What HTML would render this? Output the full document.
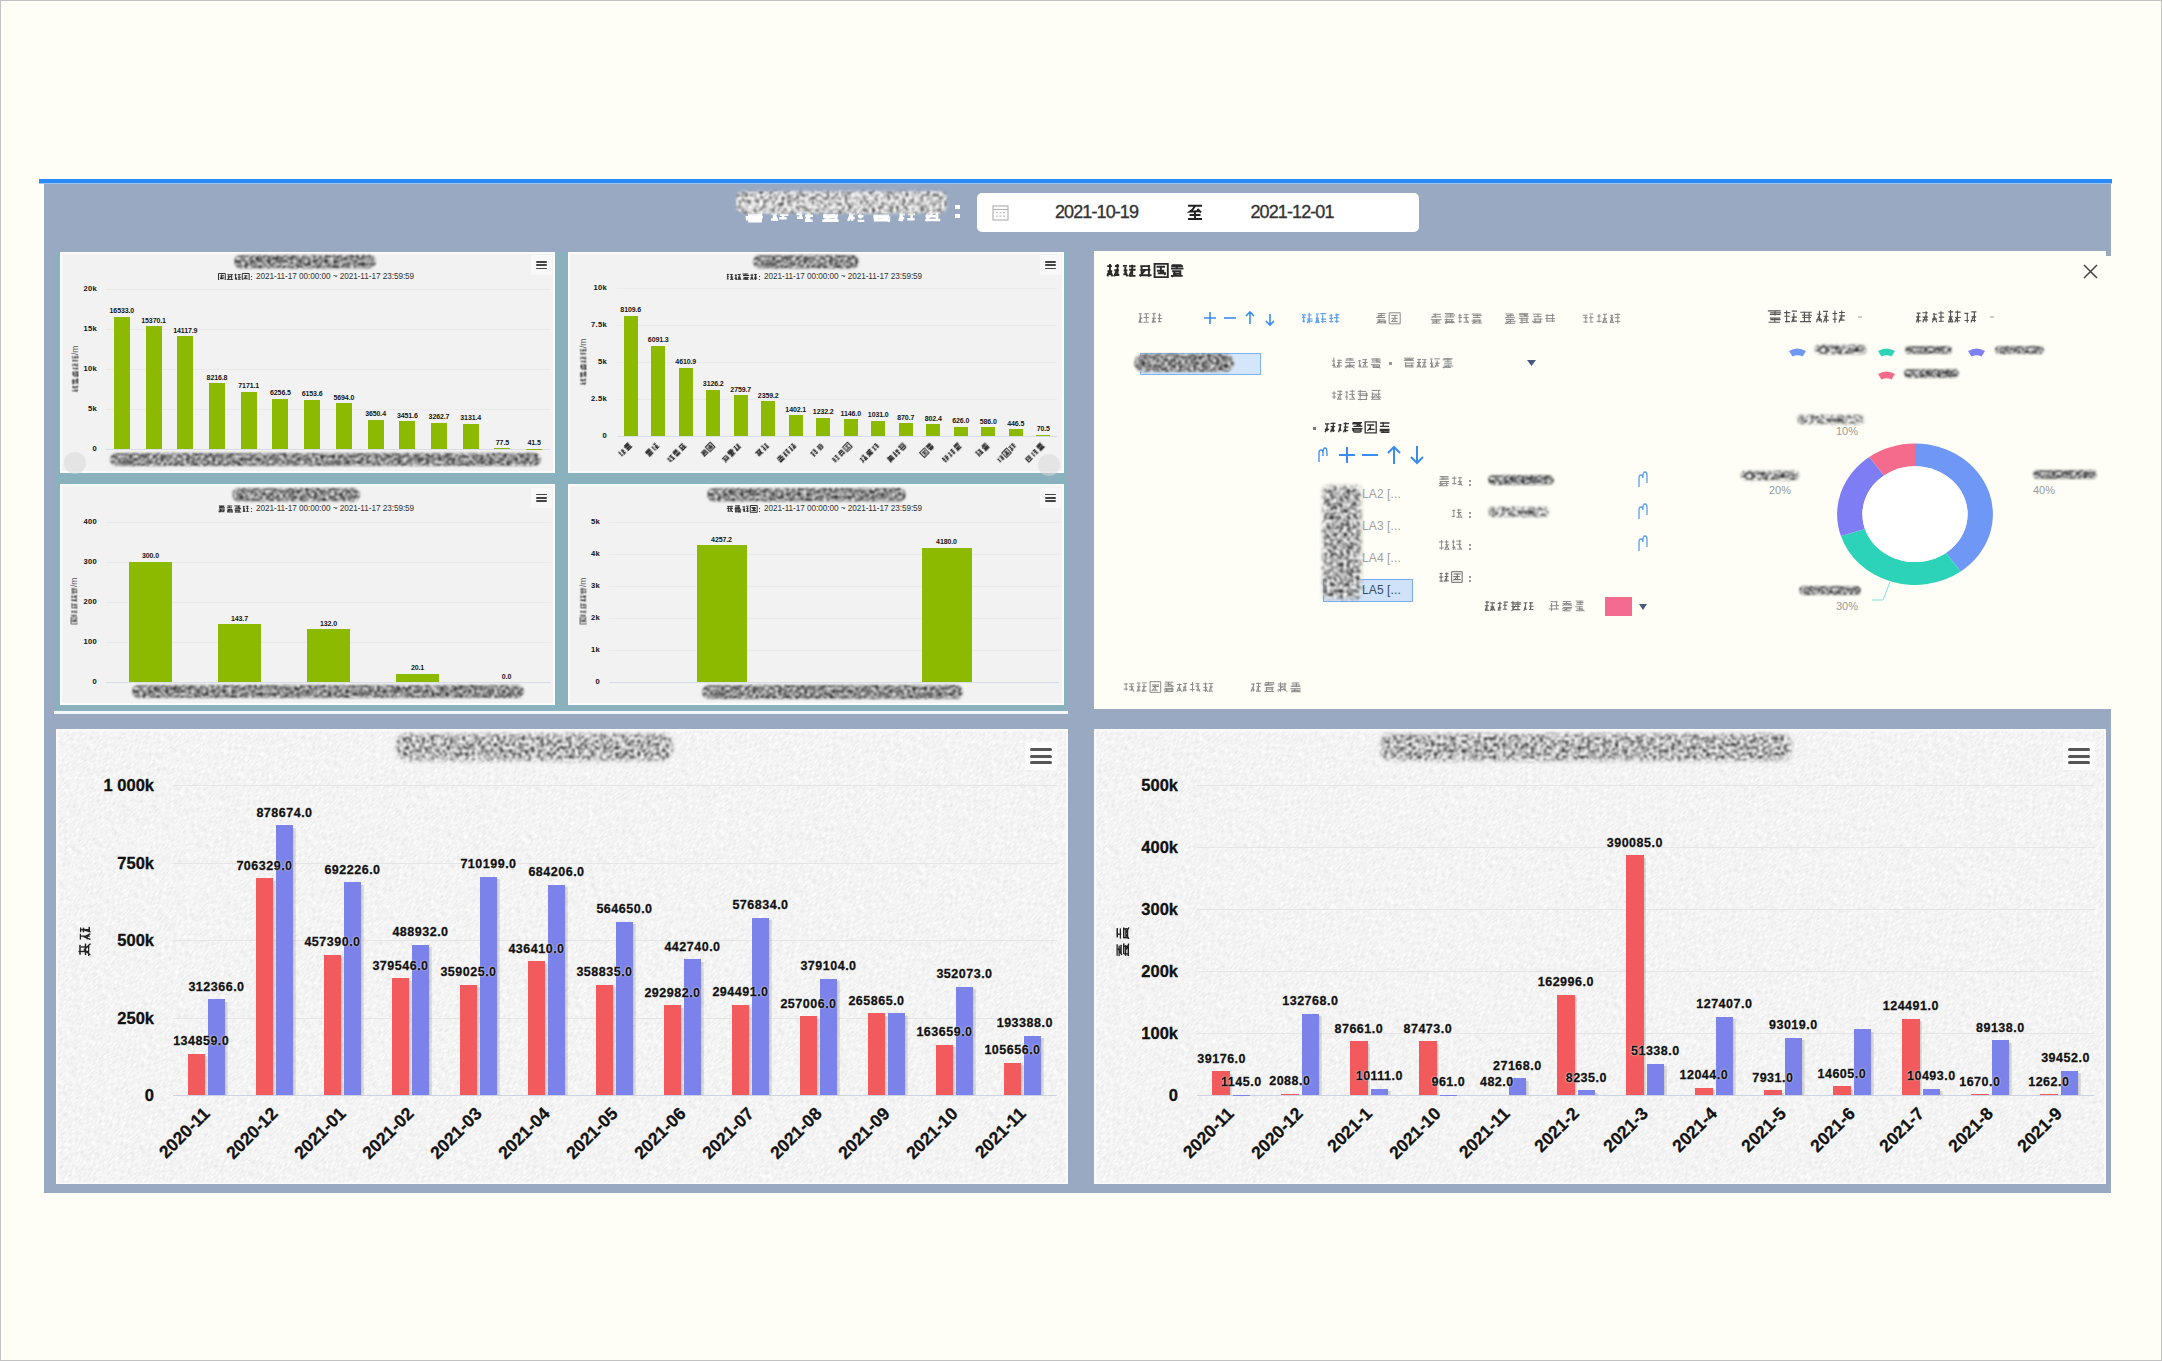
<!DOCTYPE html><html><head><meta charset="utf-8"><style>html,body{margin:0;padding:0;}body{width:2162px;height:1361px;position:relative;overflow:hidden;background:#fefef7;font-family:"Liberation Sans",sans-serif;}</style></head><body>
<svg width="0" height="0" style="position:absolute"><defs><filter id="nz1" x="-10%" y="-40%" width="120%" height="180%" color-interpolation-filters="sRGB"><feTurbulence type="fractalNoise" baseFrequency="0.3" numOctaves="3" seed="4" result="n"/><feColorMatrix in="n" type="matrix" values="2.3 0 0 0 -0.55  2.3 0 0 0 -0.55  2.3 0 0 0 -0.55  0 0 0 0 1" result="g"/><feGaussianBlur in="g" stdDeviation="1.1" result="gb"/><feGaussianBlur in="SourceAlpha" stdDeviation="1.6" result="a"/><feComposite in="gb" in2="a" operator="in"/></filter><filter id="nf0" x="-10%" y="-40%" width="120%" height="180%" color-interpolation-filters="sRGB"><feTurbulence type="fractalNoise" baseFrequency="0.3" numOctaves="3" seed="21" result="n"/><feColorMatrix in="n" type="matrix" values="2.4 0 0 0 -0.52  2.4 0 0 0 -0.52  2.4 0 0 0 -0.52  0 0 0 0 1" result="g"/><feGaussianBlur in="g" stdDeviation="1.0" result="gb"/><feGaussianBlur in="SourceAlpha" stdDeviation="2.0" result="a"/><feComposite in="gb" in2="a" operator="in"/></filter><filter id="nf1" x="-10%" y="-40%" width="120%" height="180%" color-interpolation-filters="sRGB"><feTurbulence type="fractalNoise" baseFrequency="0.3" numOctaves="3" seed="37" result="n"/><feColorMatrix in="n" type="matrix" values="2.4 0 0 0 -0.52  2.4 0 0 0 -0.52  2.4 0 0 0 -0.52  0 0 0 0 1" result="g"/><feGaussianBlur in="g" stdDeviation="1.0" result="gb"/><feGaussianBlur in="SourceAlpha" stdDeviation="2.0" result="a"/><feComposite in="gb" in2="a" operator="in"/></filter><filter id="nf2" x="-10%" y="-40%" width="120%" height="180%" color-interpolation-filters="sRGB"><feTurbulence type="fractalNoise" baseFrequency="0.3" numOctaves="3" seed="55" result="n"/><feColorMatrix in="n" type="matrix" values="2.4 0 0 0 -0.52  2.4 0 0 0 -0.52  2.4 0 0 0 -0.52  0 0 0 0 1" result="g"/><feGaussianBlur in="g" stdDeviation="1.0" result="gb"/><feGaussianBlur in="SourceAlpha" stdDeviation="2.0" result="a"/><feComposite in="gb" in2="a" operator="in"/></filter><filter id="nf3" x="-10%" y="-40%" width="120%" height="180%" color-interpolation-filters="sRGB"><feTurbulence type="fractalNoise" baseFrequency="0.35" numOctaves="3" seed="71" result="n"/><feColorMatrix in="n" type="matrix" values="2.0 0 0 0 -0.45  2.0 0 0 0 -0.45  2.0 0 0 0 -0.45  0 0 0 0 1" result="g"/><feGaussianBlur in="g" stdDeviation="1.0" result="gb"/><feGaussianBlur in="SourceAlpha" stdDeviation="1.3" result="a"/><feComposite in="gb" in2="a" operator="in"/></filter><filter id="nf4" x="-10%" y="-40%" width="120%" height="180%" color-interpolation-filters="sRGB"><feTurbulence type="fractalNoise" baseFrequency="0.35" numOctaves="3" seed="83" result="n"/><feColorMatrix in="n" type="matrix" values="2.0 0 0 0 -0.45  2.0 0 0 0 -0.45  2.0 0 0 0 -0.45  0 0 0 0 1" result="g"/><feGaussianBlur in="g" stdDeviation="1.0" result="gb"/><feGaussianBlur in="SourceAlpha" stdDeviation="1.3" result="a"/><feComposite in="gb" in2="a" operator="in"/></filter><filter id="nf5" x="-10%" y="-40%" width="120%" height="180%" color-interpolation-filters="sRGB"><feTurbulence type="fractalNoise" baseFrequency="0.35" numOctaves="3" seed="97" result="n"/><feColorMatrix in="n" type="matrix" values="2.0 0 0 0 -0.45  2.0 0 0 0 -0.45  2.0 0 0 0 -0.45  0 0 0 0 1" result="g"/><feGaussianBlur in="g" stdDeviation="1.0" result="gb"/><feGaussianBlur in="SourceAlpha" stdDeviation="1.3" result="a"/><feComposite in="gb" in2="a" operator="in"/></filter><filter id="nf6" x="-10%" y="-40%" width="120%" height="180%" color-interpolation-filters="sRGB"><feTurbulence type="fractalNoise" baseFrequency="0.33" numOctaves="3" seed="111" result="n"/><feColorMatrix in="n" type="matrix" values="2.4 0 0 0 -0.38  2.4 0 0 0 -0.38  2.4 0 0 0 -0.38  0 0 0 0 1" result="g"/><feGaussianBlur in="g" stdDeviation="0.9" result="gb"/><feGaussianBlur in="SourceAlpha" stdDeviation="1.8" result="a"/><feComposite in="gb" in2="a" operator="in"/></filter><filter id="nf7" x="-10%" y="-40%" width="120%" height="180%" color-interpolation-filters="sRGB"><feTurbulence type="fractalNoise" baseFrequency="0.32" numOctaves="3" seed="201" result="n"/><feColorMatrix in="n" type="matrix" values="2.5 0 0 0 -0.52  2.5 0 0 0 -0.52  2.5 0 0 0 -0.52  0 0 0 0 1" result="g"/><feGaussianBlur in="g" stdDeviation="0.9" result="gb"/><feGaussianBlur in="SourceAlpha" stdDeviation="2.2" result="a"/><feComposite in="gb" in2="a" operator="in"/></filter><filter id="nf8" x="-10%" y="-40%" width="120%" height="180%" color-interpolation-filters="sRGB"><feTurbulence type="fractalNoise" baseFrequency="0.32" numOctaves="3" seed="233" result="n"/><feColorMatrix in="n" type="matrix" values="2.5 0 0 0 -0.52  2.5 0 0 0 -0.52  2.5 0 0 0 -0.52  0 0 0 0 1" result="g"/><feGaussianBlur in="g" stdDeviation="0.9" result="gb"/><feGaussianBlur in="SourceAlpha" stdDeviation="2.2" result="a"/><feComposite in="gb" in2="a" operator="in"/></filter><filter id="nf9" x="-10%" y="-40%" width="120%" height="180%" color-interpolation-filters="sRGB"><feTurbulence type="fractalNoise" baseFrequency="0.3" numOctaves="3" seed="251" result="n"/><feColorMatrix in="n" type="matrix" values="2.2 0 0 0 -0.42  2.2 0 0 0 -0.42  2.2 0 0 0 -0.42  0 0 0 0 1" result="g"/><feGaussianBlur in="g" stdDeviation="1.0" result="gb"/><feGaussianBlur in="SourceAlpha" stdDeviation="1.4" result="a"/><feComposite in="gb" in2="a" operator="in"/></filter><filter id="tex" x="0" y="0" width="100%" height="100%" color-interpolation-filters="sRGB"><feTurbulence type="fractalNoise" baseFrequency="0.2 0.75" numOctaves="2" seed="3" result="n"/><feColorMatrix in="n" type="matrix" values="0.15 0 0 0 0.88  0.15 0 0 0 0.88  0.15 0 0 0 0.88  0 0 0 0 1"/></filter></defs></svg>
<div style="position:absolute;left:0.00px;top:0.00px;width:2162.00px;height:1361.00px;box-sizing:border-box;border:1px solid #c2c2c2"></div>
<div style="position:absolute;left:39.00px;top:179.00px;width:2073.00px;height:3.50px;background:#2a8bf6"></div>
<div style="position:absolute;left:39.00px;top:182.50px;width:2073.00px;height:1.00px;background:#9fc6f1"></div>
<div style="position:absolute;left:44.00px;top:183.50px;width:2067.00px;height:1009.00px;background:#98a9c1"></div>
<svg style="position:absolute;left:744.00px;top:203.00px" width="204.8" height="20" viewBox="0 0 204.8 20"><path d="M3.9 3.1H17.9M1.8 5.0H17.5M2.5 9.0H18.4M9.1 2.8V9.3M10.0 5.1L2.6 9.5M4.0 11.7H18.3M1.6 14.2H18.8M1.9 16.4H18.0M4.3 18.4H17.8M7.2 12.2V17.8M13.4 13.0V17.7M27.2 5.4H33.2M27.6 10.9H32.9M26.9 16.5H33.2M30.0 4.3V18.1M30.2 10.0L33.3 17.9M34.9 4.7H43.0M34.9 8.8H42.9M36.0 11.8H44.4M35.2 15.3H42.6M39.1 4.5V15.5M53.5 3.0H58.6M52.5 11.0H58.4M52.9 14.7H58.9M56.7 2.7V15.5M62.4 2.9H68.9M61.5 8.4H69.1M61.1 12.8H68.9M61.0 17.8H68.7M65.2 2.3V16.5M65.5 9.1L61.7 17.9M78.5 3.2H93.0M80.2 6.4H92.8M79.5 8.1H95.1M83.6 1.9V9.4M93.0 3.1V8.4M79.0 12.3H94.2M79.3 13.8H92.1M80.2 16.6H93.8M78.3 17.7H94.6M83.4 13.0V18.3M92.2 12.8V17.8M104.0 5.1H110.0M105.1 10.6H111.0M104.9 15.0H110.8M108.0 2.6V17.8M107.6 9.1L104.2 17.9M113.8 3.0H119.9M113.3 8.7H119.8M113.9 13.2H119.5M113.6 17.9H120.3M116.4 4.9V15.5M132.5 2.8H145.0M130.3 6.2H144.9M130.2 9.0H143.3M136.9 2.5V8.8M138.0 5.1L130.6 9.5M129.3 12.6H145.1M129.4 14.6H146.3M129.8 17.3H146.1M132.0 12.0V18.2M142.8 12.3V18.4M138.0 15.0L145.9 18.4M155.7 5.2H160.7M155.5 11.3H161.0M155.5 15.3H160.2M157.8 2.7V18.3M158.1 9.1L155.3 17.9M162.9 3.3H171.7M163.0 7.7H172.1M164.2 11.0H171.1M163.3 16.3H170.6M167.6 2.6V15.7M183.8 2.4H196.7M183.6 7.8H195.9M183.9 9.3H196.3M181.5 13.3H194.5M181.4 17.0H196.3M183.5 3.9V17.2M192.9 4.6V15.9M189.2 9.1L181.8 17.9" stroke="#ffffff" stroke-width="2.4" fill="none"/></svg>
<svg style="position:absolute;left:730.00px;top:185.00px;opacity:1.0" width="223.0" height="34.5"><rect x="6" y="6" width="211.0" height="22.5" rx="8.0" fill="#000" filter="url(#nf6)"/></svg>
<div style="position:absolute;left:954.50px;top:204.50px;width:5.00px;height:4.50px;background:#fff"></div>
<div style="position:absolute;left:954.50px;top:213.50px;width:5.00px;height:4.50px;background:#fff"></div>
<div style="position:absolute;left:977.00px;top:192.50px;width:441.50px;height:39.50px;background:#fff;border-radius:5px"></div>
<svg style="position:absolute;left:992px;top:204px" width="17" height="17" viewBox="0 0 17 17"><rect x="1" y="2" width="15" height="14" fill="none" stroke="#b4b4b4" stroke-width="1.2"/><line x1="1" y1="5.5" x2="16" y2="5.5" stroke="#b4b4b4" stroke-width="1.2"/><g fill="#c4c4c4"><rect x="4" y="8" width="2" height="1.3"/><rect x="7.5" y="8" width="2" height="1.3"/><rect x="11" y="8" width="2" height="1.3"/><rect x="4" y="11.5" width="2" height="1.3"/><rect x="7.5" y="11.5" width="2" height="1.3"/><rect x="11" y="11.5" width="2" height="1.3"/></g></svg>
<div style="position:absolute;left:1055.00px;top:203.00px;font-size:18px;line-height:18px;color:#333;font-weight:normal;white-space:nowrap;letter-spacing:-0.9px;-webkit-text-stroke:0.35px #333">2021-10-19</div>
<svg style="position:absolute;left:1187px;top:203.5px" width="16" height="16" viewBox="0 0 16 16"><path d="M1 1.8H15M8.2 2Q6 5.5 3 7.6L13 7M10.5 4.8L14 8.5M8 7.5V14.8M2.5 11H13.5M1 15H15" stroke="#222" stroke-width="1.9" fill="none"/></svg>
<div style="position:absolute;left:1250.50px;top:203.00px;font-size:18px;line-height:18px;color:#333;font-weight:normal;white-space:nowrap;letter-spacing:-0.9px;-webkit-text-stroke:0.35px #333">2021-12-01</div>
<div style="position:absolute;left:53.00px;top:251.50px;width:1015.00px;height:459.00px;background:linear-gradient(90deg,#96a9bf 0,#89b2be 5px,#89b2be 100%)"></div>
<div style="position:absolute;left:54.00px;top:710.50px;width:1014.00px;height:3.50px;background:#f4f8fa"></div>
<div style="position:absolute;left:60.00px;top:251.50px;width:495.00px;height:221.50px;box-sizing:border-box;border:2px solid #fbfbfb;background:#f2f2f2"></div>
<svg style="position:absolute;left:228.00px;top:249.00px;opacity:1.0" width="154.0" height="25.5"><rect x="6" y="6" width="142.0" height="13.5" rx="6.8" fill="#000" filter="url(#nf5)"/></svg>
<svg style="position:absolute;left:218.00px;top:272.50px;filter:blur(0.2px)" width="31.8" height="7.8" viewBox="0 0 31.8 7.8"><path d="M0.5 0.5H7.3V7.3H0.5ZM2.4 2.4H5.9M1.7 4.2H6.4M2.1 5.5H5.5M3.5 1.6V6.1M9.3 1.7H14.9M9.7 3.7H14.2M8.8 6.6H15.1M10.7 2.2V6.3M13.6 1.5V7.2M11.9 3.6L9.0 7.0M16.4 1.9H18.7M16.7 5.8H18.8M17.5 0.7V6.2M17.8 3.9L19.0 7.0M19.7 1.6H22.7M19.8 4.2H23.2M20.2 6.3H22.7M21.1 1.9V6.5M24.3 0.5H31.2V7.3H24.3ZM26.2 2.8H29.4M25.6 5.3H29.7M27.8 2.5V6.1M27.8 3.7L25.7 6.1" stroke="#333" stroke-width="1.0" fill="none"/></svg>
<div style="position:absolute;left:251.00px;top:275.50px;width:1.30px;height:1.30px;background:#444"></div>
<div style="position:absolute;left:251.00px;top:278.50px;width:1.30px;height:1.30px;background:#444"></div>
<div style="position:absolute;left:256.00px;top:272.50px;font-size:8.2px;line-height:8.2px;color:#333;font-weight:normal;white-space:nowrap;letter-spacing:-0.05px">2021-11-17 00:00:00 ~ 2021-11-17 23:59:59</div>
<div style="position:absolute;left:531.40px;top:255.10px;width:20.50px;height:20.30px;background:#f8f8f8;border-radius:2px"></div>
<div style="position:absolute;left:536.40px;top:261.10px;width:10.50px;height:1.90px;background:#444;border-radius:0.95px"></div>
<div style="position:absolute;left:536.40px;top:264.30px;width:10.50px;height:1.90px;background:#444;border-radius:0.95px"></div>
<div style="position:absolute;left:536.40px;top:267.50px;width:10.50px;height:1.90px;background:#444;border-radius:0.95px"></div>
<div style="position:absolute;left:106.00px;top:449.00px;width:444.00px;height:1.00px;background:#d8dbe8"></div>
<div style="position:absolute;left:-503.00px;width:600px;text-align:right;top:445.00px;font-size:7.6px;line-height:7.6px;color:#111;font-weight:bold;white-space:nowrap;letter-spacing:0.3px">0</div>
<div style="position:absolute;left:106.00px;top:409.00px;width:444.00px;height:1.00px;background:#eaeaea"></div>
<div style="position:absolute;left:-503.00px;width:600px;text-align:right;top:405.00px;font-size:7.6px;line-height:7.6px;color:#111;font-weight:bold;white-space:nowrap;letter-spacing:0.3px">5k</div>
<div style="position:absolute;left:106.00px;top:369.00px;width:444.00px;height:1.00px;background:#eaeaea"></div>
<div style="position:absolute;left:-503.00px;width:600px;text-align:right;top:365.00px;font-size:7.6px;line-height:7.6px;color:#111;font-weight:bold;white-space:nowrap;letter-spacing:0.3px">10k</div>
<div style="position:absolute;left:106.00px;top:329.00px;width:444.00px;height:1.00px;background:#eaeaea"></div>
<div style="position:absolute;left:-503.00px;width:600px;text-align:right;top:325.00px;font-size:7.6px;line-height:7.6px;color:#111;font-weight:bold;white-space:nowrap;letter-spacing:0.3px">15k</div>
<div style="position:absolute;left:106.00px;top:289.00px;width:444.00px;height:1.00px;background:#eaeaea"></div>
<div style="position:absolute;left:-503.00px;width:600px;text-align:right;top:285.00px;font-size:7.6px;line-height:7.6px;color:#111;font-weight:bold;white-space:nowrap;letter-spacing:0.3px">20k</div>
<div style="position:absolute;left:34.5px;top:364.5px;width:80px;height:9px;transform:rotate(-90deg);">
<svg style="position:absolute;left:17.00px;top:1.00px;filter:blur(0.15px)" width="37.4" height="7.4" viewBox="0 0 37.4 7.4"><path d="M0.8 1.2H2.5M0.7 3.5H2.6M0.5 5.5H2.8M1.8 1.8V6.1M1.7 3.7L2.7 6.6M4.0 1.8H7.0M3.4 3.3H6.4M3.6 5.7H6.7M5.3 0.7V6.2M5.1 3.7L6.8 6.6M8.4 1.1H13.2M7.9 1.7H13.3M9.1 2.7H13.3M11.8 0.8V2.9M11.2 1.8L8.4 3.2M9.2 4.2H13.5M8.7 5.5H14.2M8.6 6.3H14.2M11.8 4.1V6.9M16.7 1.5H21.1M15.5 2.9H21.8M19.1 0.7V4.0M18.6 2.1L15.9 3.9M15.7 4.8H21.9M15.6 5.6H20.6M15.9 6.7H21.2M16.4 5.1V6.9M20.5 4.7V6.8M18.6 5.6L15.9 6.8M23.3 2.0H25.2M23.3 5.4H25.2M24.0 1.5V6.8M24.1 3.4L23.1 6.6M26.1 1.2H28.8M26.5 3.4H29.3M26.5 6.0H29.3M27.8 1.8V6.3M27.6 3.4L26.0 6.6M30.6 1.7H33.0M30.9 3.8H32.9M30.8 5.8H32.6M31.8 0.8V6.3M33.7 1.1H36.8M33.9 3.5H36.6M34.0 6.3H36.7M34.9 1.4V6.6M35.2 3.7L36.7 6.6" stroke="#555" stroke-width="0.95" fill="none"/></svg>
<div style="position:absolute;left:54.50px;top:0.30px;font-size:8.5px;line-height:8.5px;color:#555;font-weight:normal;white-space:nowrap;">/m</div>
</div>
<div style="position:absolute;left:113.86px;top:316.74px;width:16.00px;height:132.26px;background:#8cba00"></div>
<div style="position:absolute;left:-178.14px;width:600px;text-align:center;top:307.24px;font-size:7px;line-height:7px;color:#111;font-weight:bold;white-space:nowrap;letter-spacing:-0.1px;text-shadow:0 0 1px #fff">16533.0</div>
<div style="position:absolute;left:145.57px;top:326.04px;width:16.00px;height:122.96px;background:#8cba00"></div>
<div style="position:absolute;left:-146.43px;width:600px;text-align:center;top:316.54px;font-size:7px;line-height:7px;color:#111;font-weight:bold;white-space:nowrap;letter-spacing:-0.1px;text-shadow:0 0 1px #fff">15370.1</div>
<div style="position:absolute;left:177.29px;top:336.06px;width:16.00px;height:112.94px;background:#8cba00"></div>
<div style="position:absolute;left:-114.71px;width:600px;text-align:center;top:326.56px;font-size:7px;line-height:7px;color:#111;font-weight:bold;white-space:nowrap;letter-spacing:-0.1px;text-shadow:0 0 1px #fff">14117.9</div>
<div style="position:absolute;left:209.00px;top:383.27px;width:16.00px;height:65.73px;background:#8cba00"></div>
<div style="position:absolute;left:-83.00px;width:600px;text-align:center;top:373.77px;font-size:7px;line-height:7px;color:#111;font-weight:bold;white-space:nowrap;letter-spacing:-0.1px;text-shadow:0 0 1px #fff">8216.8</div>
<div style="position:absolute;left:240.71px;top:391.63px;width:16.00px;height:57.37px;background:#8cba00"></div>
<div style="position:absolute;left:-51.29px;width:600px;text-align:center;top:382.13px;font-size:7px;line-height:7px;color:#111;font-weight:bold;white-space:nowrap;letter-spacing:-0.1px;text-shadow:0 0 1px #fff">7171.1</div>
<div style="position:absolute;left:272.43px;top:398.95px;width:16.00px;height:50.05px;background:#8cba00"></div>
<div style="position:absolute;left:-19.57px;width:600px;text-align:center;top:389.45px;font-size:7px;line-height:7px;color:#111;font-weight:bold;white-space:nowrap;letter-spacing:-0.1px;text-shadow:0 0 1px #fff">6256.5</div>
<div style="position:absolute;left:304.14px;top:399.77px;width:16.00px;height:49.23px;background:#8cba00"></div>
<div style="position:absolute;left:12.14px;width:600px;text-align:center;top:390.27px;font-size:7px;line-height:7px;color:#111;font-weight:bold;white-space:nowrap;letter-spacing:-0.1px;text-shadow:0 0 1px #fff">6153.6</div>
<div style="position:absolute;left:335.86px;top:403.45px;width:16.00px;height:45.55px;background:#8cba00"></div>
<div style="position:absolute;left:43.86px;width:600px;text-align:center;top:393.95px;font-size:7px;line-height:7px;color:#111;font-weight:bold;white-space:nowrap;letter-spacing:-0.1px;text-shadow:0 0 1px #fff">5694.0</div>
<div style="position:absolute;left:367.57px;top:419.80px;width:16.00px;height:29.20px;background:#8cba00"></div>
<div style="position:absolute;left:75.57px;width:600px;text-align:center;top:410.30px;font-size:7px;line-height:7px;color:#111;font-weight:bold;white-space:nowrap;letter-spacing:-0.1px;text-shadow:0 0 1px #fff">3650.4</div>
<div style="position:absolute;left:399.29px;top:421.39px;width:16.00px;height:27.61px;background:#8cba00"></div>
<div style="position:absolute;left:107.29px;width:600px;text-align:center;top:411.89px;font-size:7px;line-height:7px;color:#111;font-weight:bold;white-space:nowrap;letter-spacing:-0.1px;text-shadow:0 0 1px #fff">3451.6</div>
<div style="position:absolute;left:431.00px;top:422.90px;width:16.00px;height:26.10px;background:#8cba00"></div>
<div style="position:absolute;left:139.00px;width:600px;text-align:center;top:413.40px;font-size:7px;line-height:7px;color:#111;font-weight:bold;white-space:nowrap;letter-spacing:-0.1px;text-shadow:0 0 1px #fff">3262.7</div>
<div style="position:absolute;left:462.71px;top:423.95px;width:16.00px;height:25.05px;background:#8cba00"></div>
<div style="position:absolute;left:170.71px;width:600px;text-align:center;top:414.45px;font-size:7px;line-height:7px;color:#111;font-weight:bold;white-space:nowrap;letter-spacing:-0.1px;text-shadow:0 0 1px #fff">3131.4</div>
<div style="position:absolute;left:494.43px;top:448.38px;width:16.00px;height:0.62px;background:#8cba00"></div>
<div style="position:absolute;left:202.43px;width:600px;text-align:center;top:438.88px;font-size:7px;line-height:7px;color:#111;font-weight:bold;white-space:nowrap;letter-spacing:-0.1px;text-shadow:0 0 1px #fff">77.5</div>
<div style="position:absolute;left:526.14px;top:448.67px;width:16.00px;height:0.33px;background:#8cba00"></div>
<div style="position:absolute;left:234.14px;width:600px;text-align:center;top:439.17px;font-size:7px;line-height:7px;color:#111;font-weight:bold;white-space:nowrap;letter-spacing:-0.1px;text-shadow:0 0 1px #fff">41.5</div>
<svg style="position:absolute;left:104.00px;top:447.00px;opacity:1.0" width="443.0" height="25.0"><rect x="6" y="6" width="431.0" height="13.0" rx="6.5" fill="#000" filter="url(#nf3)"/></svg>
<div style="position:absolute;left:568.00px;top:251.50px;width:496.00px;height:221.50px;box-sizing:border-box;border:2px solid #fbfbfb;background:#f2f2f2"></div>
<svg style="position:absolute;left:747.00px;top:249.00px;opacity:1.0" width="118.0" height="25.5"><rect x="6" y="6" width="106.0" height="13.5" rx="6.8" fill="#000" filter="url(#nf3)"/></svg>
<svg style="position:absolute;left:726.00px;top:272.50px;filter:blur(0.2px)" width="31.8" height="7.8" viewBox="0 0 31.8 7.8"><path d="M0.8 1.5H2.8M0.9 3.6H2.8M0.8 5.9H2.7M1.7 0.8V6.2M3.7 1.5H6.8M4.1 4.0H7.2M4.0 6.3H7.0M5.6 1.1V6.6M5.4 3.9L7.1 7.0M8.7 2.4H10.8M8.5 5.5H10.7M9.9 1.2V6.9M9.8 3.9L10.9 7.0M11.7 1.5H14.8M12.0 4.1H14.7M12.1 6.2H14.9M13.3 2.1V6.1M13.4 3.6L11.8 7.0M13.4 3.9L15.1 7.0M16.4 1.0H22.4M17.2 2.5H23.2M19.9 0.7V2.9M19.8 1.6L16.9 2.9M17.6 4.4H22.8M17.3 5.6H22.1M16.9 6.9H21.9M19.8 4.0V7.3M19.8 5.4L22.9 7.1M24.4 2.1H27.2M24.4 5.1H27.0M26.0 0.9V6.2M25.9 3.6L24.6 7.0M25.9 3.9L27.2 7.0M27.9 1.7H31.0M28.2 4.2H31.0M27.9 5.7H31.1M29.5 0.9V7.3" stroke="#333" stroke-width="1.0" fill="none"/></svg>
<div style="position:absolute;left:759.00px;top:275.50px;width:1.30px;height:1.30px;background:#444"></div>
<div style="position:absolute;left:759.00px;top:278.50px;width:1.30px;height:1.30px;background:#444"></div>
<div style="position:absolute;left:764.00px;top:272.50px;font-size:8.2px;line-height:8.2px;color:#333;font-weight:normal;white-space:nowrap;letter-spacing:-0.05px">2021-11-17 00:00:00 ~ 2021-11-17 23:59:59</div>
<div style="position:absolute;left:1040.40px;top:255.10px;width:20.50px;height:20.30px;background:#f8f8f8;border-radius:2px"></div>
<div style="position:absolute;left:1045.40px;top:261.10px;width:10.50px;height:1.90px;background:#444;border-radius:0.95px"></div>
<div style="position:absolute;left:1045.40px;top:264.30px;width:10.50px;height:1.90px;background:#444;border-radius:0.95px"></div>
<div style="position:absolute;left:1045.40px;top:267.50px;width:10.50px;height:1.90px;background:#444;border-radius:0.95px"></div>
<div style="position:absolute;left:617.00px;top:436.00px;width:440.00px;height:1.00px;background:#d8dbe8"></div>
<div style="position:absolute;left:7.00px;width:600px;text-align:right;top:432.00px;font-size:7.6px;line-height:7.6px;color:#111;font-weight:bold;white-space:nowrap;letter-spacing:0.3px">0</div>
<div style="position:absolute;left:617.00px;top:399.00px;width:440.00px;height:1.00px;background:#eaeaea"></div>
<div style="position:absolute;left:7.00px;width:600px;text-align:right;top:395.00px;font-size:7.6px;line-height:7.6px;color:#111;font-weight:bold;white-space:nowrap;letter-spacing:0.3px">2.5k</div>
<div style="position:absolute;left:617.00px;top:362.00px;width:440.00px;height:1.00px;background:#eaeaea"></div>
<div style="position:absolute;left:7.00px;width:600px;text-align:right;top:358.00px;font-size:7.6px;line-height:7.6px;color:#111;font-weight:bold;white-space:nowrap;letter-spacing:0.3px">5k</div>
<div style="position:absolute;left:617.00px;top:325.00px;width:440.00px;height:1.00px;background:#eaeaea"></div>
<div style="position:absolute;left:7.00px;width:600px;text-align:right;top:321.00px;font-size:7.6px;line-height:7.6px;color:#111;font-weight:bold;white-space:nowrap;letter-spacing:0.3px">7.5k</div>
<div style="position:absolute;left:617.00px;top:288.00px;width:440.00px;height:1.00px;background:#eaeaea"></div>
<div style="position:absolute;left:7.00px;width:600px;text-align:right;top:284.00px;font-size:7.6px;line-height:7.6px;color:#111;font-weight:bold;white-space:nowrap;letter-spacing:0.3px">10k</div>
<div style="position:absolute;left:542.5px;top:357.5px;width:80px;height:9px;transform:rotate(-90deg);">
<svg style="position:absolute;left:17.00px;top:1.00px;filter:blur(0.15px)" width="37.4" height="7.4" viewBox="0 0 37.4 7.4"><path d="M0.8 1.2H2.5M0.7 3.5H2.6M0.5 5.5H2.8M1.8 1.8V6.1M1.7 3.7L2.7 6.6M4.0 1.8H7.0M3.4 3.3H6.4M3.6 5.7H6.7M5.3 0.7V6.2M5.1 3.7L6.8 6.6M8.4 1.1H13.2M7.9 1.7H13.3M9.1 2.7H13.3M11.8 0.8V2.9M11.2 1.8L8.4 3.2M9.2 4.2H13.5M8.7 5.5H14.2M8.6 6.3H14.2M11.8 4.1V6.9M16.7 1.5H21.1M15.5 2.9H21.8M19.1 0.7V4.0M18.6 2.1L15.9 3.9M15.7 4.8H21.9M15.6 5.6H20.6M15.9 6.7H21.2M16.4 5.1V6.9M20.5 4.7V6.8M18.6 5.6L15.9 6.8M23.3 2.0H25.2M23.3 5.4H25.2M24.0 1.5V6.8M24.1 3.4L23.1 6.6M26.1 1.2H28.8M26.5 3.4H29.3M26.5 6.0H29.3M27.8 1.8V6.3M27.6 3.4L26.0 6.6M30.6 1.7H33.0M30.9 3.8H32.9M30.8 5.8H32.6M31.8 0.8V6.3M33.7 1.1H36.8M33.9 3.5H36.6M34.0 6.3H36.7M34.9 1.4V6.6M35.2 3.7L36.7 6.6" stroke="#555" stroke-width="0.95" fill="none"/></svg>
<div style="position:absolute;left:54.50px;top:0.30px;font-size:8.5px;line-height:8.5px;color:#555;font-weight:normal;white-space:nowrap;">/m</div>
</div>
<div style="position:absolute;left:623.75px;top:315.98px;width:14.00px;height:120.02px;background:#8cba00"></div>
<div style="position:absolute;left:330.75px;width:600px;text-align:center;top:306.48px;font-size:7px;line-height:7px;color:#111;font-weight:bold;white-space:nowrap;letter-spacing:-0.1px;text-shadow:0 0 1px #fff">8109.6</div>
<div style="position:absolute;left:651.25px;top:345.85px;width:14.00px;height:90.15px;background:#8cba00"></div>
<div style="position:absolute;left:358.25px;width:600px;text-align:center;top:336.35px;font-size:7px;line-height:7px;color:#111;font-weight:bold;white-space:nowrap;letter-spacing:-0.1px;text-shadow:0 0 1px #fff">6091.3</div>
<div style="position:absolute;left:678.75px;top:367.76px;width:14.00px;height:68.24px;background:#8cba00"></div>
<div style="position:absolute;left:385.75px;width:600px;text-align:center;top:358.26px;font-size:7px;line-height:7px;color:#111;font-weight:bold;white-space:nowrap;letter-spacing:-0.1px;text-shadow:0 0 1px #fff">4610.9</div>
<div style="position:absolute;left:706.25px;top:389.73px;width:14.00px;height:46.27px;background:#8cba00"></div>
<div style="position:absolute;left:413.25px;width:600px;text-align:center;top:380.23px;font-size:7px;line-height:7px;color:#111;font-weight:bold;white-space:nowrap;letter-spacing:-0.1px;text-shadow:0 0 1px #fff">3126.2</div>
<div style="position:absolute;left:733.75px;top:395.16px;width:14.00px;height:40.84px;background:#8cba00"></div>
<div style="position:absolute;left:440.75px;width:600px;text-align:center;top:385.66px;font-size:7px;line-height:7px;color:#111;font-weight:bold;white-space:nowrap;letter-spacing:-0.1px;text-shadow:0 0 1px #fff">2759.7</div>
<div style="position:absolute;left:761.25px;top:401.08px;width:14.00px;height:34.92px;background:#8cba00"></div>
<div style="position:absolute;left:468.25px;width:600px;text-align:center;top:391.58px;font-size:7px;line-height:7px;color:#111;font-weight:bold;white-space:nowrap;letter-spacing:-0.1px;text-shadow:0 0 1px #fff">2359.2</div>
<div style="position:absolute;left:788.75px;top:415.25px;width:14.00px;height:20.75px;background:#8cba00"></div>
<div style="position:absolute;left:495.75px;width:600px;text-align:center;top:405.75px;font-size:7px;line-height:7px;color:#111;font-weight:bold;white-space:nowrap;letter-spacing:-0.1px;text-shadow:0 0 1px #fff">1402.1</div>
<div style="position:absolute;left:816.25px;top:417.76px;width:14.00px;height:18.24px;background:#8cba00"></div>
<div style="position:absolute;left:523.25px;width:600px;text-align:center;top:408.26px;font-size:7px;line-height:7px;color:#111;font-weight:bold;white-space:nowrap;letter-spacing:-0.1px;text-shadow:0 0 1px #fff">1232.2</div>
<div style="position:absolute;left:843.75px;top:419.04px;width:14.00px;height:16.96px;background:#8cba00"></div>
<div style="position:absolute;left:550.75px;width:600px;text-align:center;top:409.54px;font-size:7px;line-height:7px;color:#111;font-weight:bold;white-space:nowrap;letter-spacing:-0.1px;text-shadow:0 0 1px #fff">1146.0</div>
<div style="position:absolute;left:871.25px;top:420.74px;width:14.00px;height:15.26px;background:#8cba00"></div>
<div style="position:absolute;left:578.25px;width:600px;text-align:center;top:411.24px;font-size:7px;line-height:7px;color:#111;font-weight:bold;white-space:nowrap;letter-spacing:-0.1px;text-shadow:0 0 1px #fff">1031.0</div>
<div style="position:absolute;left:898.75px;top:423.11px;width:14.00px;height:12.89px;background:#8cba00"></div>
<div style="position:absolute;left:605.75px;width:600px;text-align:center;top:413.61px;font-size:7px;line-height:7px;color:#111;font-weight:bold;white-space:nowrap;letter-spacing:-0.1px;text-shadow:0 0 1px #fff">870.7</div>
<div style="position:absolute;left:926.25px;top:424.12px;width:14.00px;height:11.88px;background:#8cba00"></div>
<div style="position:absolute;left:633.25px;width:600px;text-align:center;top:414.62px;font-size:7px;line-height:7px;color:#111;font-weight:bold;white-space:nowrap;letter-spacing:-0.1px;text-shadow:0 0 1px #fff">802.4</div>
<div style="position:absolute;left:953.75px;top:426.74px;width:14.00px;height:9.26px;background:#8cba00"></div>
<div style="position:absolute;left:660.75px;width:600px;text-align:center;top:417.24px;font-size:7px;line-height:7px;color:#111;font-weight:bold;white-space:nowrap;letter-spacing:-0.1px;text-shadow:0 0 1px #fff">626.0</div>
<div style="position:absolute;left:981.25px;top:427.33px;width:14.00px;height:8.67px;background:#8cba00"></div>
<div style="position:absolute;left:688.25px;width:600px;text-align:center;top:417.83px;font-size:7px;line-height:7px;color:#111;font-weight:bold;white-space:nowrap;letter-spacing:-0.1px;text-shadow:0 0 1px #fff">586.0</div>
<div style="position:absolute;left:1008.75px;top:429.39px;width:14.00px;height:6.61px;background:#8cba00"></div>
<div style="position:absolute;left:715.75px;width:600px;text-align:center;top:419.89px;font-size:7px;line-height:7px;color:#111;font-weight:bold;white-space:nowrap;letter-spacing:-0.1px;text-shadow:0 0 1px #fff">446.5</div>
<div style="position:absolute;left:1036.25px;top:434.96px;width:14.00px;height:1.04px;background:#8cba00"></div>
<div style="position:absolute;left:743.25px;width:600px;text-align:center;top:425.46px;font-size:7px;line-height:7px;color:#111;font-weight:bold;white-space:nowrap;letter-spacing:-0.1px;text-shadow:0 0 1px #fff">70.5</div>
<div style="position:absolute;left:60.00px;top:484.00px;width:495.00px;height:221.00px;box-sizing:border-box;border:2px solid #fbfbfb;background:#f2f2f2"></div>
<svg style="position:absolute;left:226.00px;top:481.50px;opacity:1.0" width="140.0" height="25.5"><rect x="6" y="6" width="128.0" height="13.5" rx="6.8" fill="#000" filter="url(#nf4)"/></svg>
<svg style="position:absolute;left:218.00px;top:505.00px;filter:blur(0.2px)" width="31.8" height="7.8" viewBox="0 0 31.8 7.8"><path d="M0.9 1.0H6.4M1.4 1.6H6.0M1.7 2.7H6.8M3.5 0.8V2.8M3.9 1.7L1.0 3.0M1.2 4.0H6.7M0.6 5.2H6.8M0.6 6.7H6.2M2.5 3.9V7.1M5.8 4.6V6.7M3.9 5.3L1.0 7.1M9.3 1.0H14.3M8.9 2.8H14.0M11.2 0.8V3.1M9.5 4.5H14.2M8.9 5.8H14.5M9.6 7.0H15.0M10.6 4.3V6.7M14.0 4.6V7.2M11.9 5.4L9.0 7.2M16.4 0.9H22.3M17.5 2.2H22.2M16.8 3.7H23.1M20.4 1.0V3.5M19.8 2.3L22.9 3.9M16.5 5.0H22.0M17.0 5.8H22.0M16.9 7.1H23.1M17.9 5.1V6.9M21.0 5.1V7.2M24.8 1.4H26.7M24.9 3.4H26.7M24.7 6.0H27.2M25.8 1.2V7.0M25.8 3.9L27.1 7.0M27.8 1.2H30.6M28.2 3.5H30.6M28.4 6.5H30.7M29.4 1.0V6.5" stroke="#333" stroke-width="1.0" fill="none"/></svg>
<div style="position:absolute;left:251.00px;top:508.00px;width:1.30px;height:1.30px;background:#444"></div>
<div style="position:absolute;left:251.00px;top:511.00px;width:1.30px;height:1.30px;background:#444"></div>
<div style="position:absolute;left:256.00px;top:505.00px;font-size:8.2px;line-height:8.2px;color:#333;font-weight:normal;white-space:nowrap;letter-spacing:-0.05px">2021-11-17 00:00:00 ~ 2021-11-17 23:59:59</div>
<div style="position:absolute;left:531.40px;top:487.60px;width:20.50px;height:20.30px;background:#f8f8f8;border-radius:2px"></div>
<div style="position:absolute;left:536.40px;top:493.60px;width:10.50px;height:1.90px;background:#444;border-radius:0.95px"></div>
<div style="position:absolute;left:536.40px;top:496.80px;width:10.50px;height:1.90px;background:#444;border-radius:0.95px"></div>
<div style="position:absolute;left:536.40px;top:500.00px;width:10.50px;height:1.90px;background:#444;border-radius:0.95px"></div>
<div style="position:absolute;left:106.00px;top:682.00px;width:445.00px;height:1.00px;background:#d8dbe8"></div>
<div style="position:absolute;left:-503.00px;width:600px;text-align:right;top:678.00px;font-size:7.6px;line-height:7.6px;color:#111;font-weight:bold;white-space:nowrap;letter-spacing:0.3px">0</div>
<div style="position:absolute;left:106.00px;top:641.88px;width:445.00px;height:1.00px;background:#eaeaea"></div>
<div style="position:absolute;left:-503.00px;width:600px;text-align:right;top:637.88px;font-size:7.6px;line-height:7.6px;color:#111;font-weight:bold;white-space:nowrap;letter-spacing:0.3px">100</div>
<div style="position:absolute;left:106.00px;top:601.75px;width:445.00px;height:1.00px;background:#eaeaea"></div>
<div style="position:absolute;left:-503.00px;width:600px;text-align:right;top:597.75px;font-size:7.6px;line-height:7.6px;color:#111;font-weight:bold;white-space:nowrap;letter-spacing:0.3px">200</div>
<div style="position:absolute;left:106.00px;top:561.62px;width:445.00px;height:1.00px;background:#eaeaea"></div>
<div style="position:absolute;left:-503.00px;width:600px;text-align:right;top:557.62px;font-size:7.6px;line-height:7.6px;color:#111;font-weight:bold;white-space:nowrap;letter-spacing:0.3px">300</div>
<div style="position:absolute;left:106.00px;top:521.50px;width:445.00px;height:1.00px;background:#eaeaea"></div>
<div style="position:absolute;left:-503.00px;width:600px;text-align:right;top:517.50px;font-size:7.6px;line-height:7.6px;color:#111;font-weight:bold;white-space:nowrap;letter-spacing:0.3px">400</div>
<div style="position:absolute;left:33.5px;top:596.5px;width:80px;height:9px;transform:rotate(-90deg);">
<svg style="position:absolute;left:17.00px;top:1.00px;filter:blur(0.15px)" width="37.4" height="7.4" viewBox="0 0 37.4 7.4"><path d="M0.4 0.4H7.0V7.0H0.4ZM2.2 2.0H5.9M1.9 3.9H5.3M2.2 5.1H5.6M3.5 1.6V6.0M3.7 3.7L5.8 5.8M8.2 1.2H10.0M8.2 3.2H10.0M8.1 5.4H9.9M8.9 1.8V6.0M11.4 1.4H14.1M11.3 3.9H13.7M11.1 6.0H14.0M12.9 1.4V6.3M16.4 1.4H21.6M16.6 4.2H21.0M15.7 6.2H20.7M16.7 1.3V6.7M19.7 0.9V6.0M23.1 2.0H25.5M23.2 3.9H25.2M23.1 5.7H25.5M24.4 0.6V5.8M24.2 3.4L23.1 6.6M24.2 3.7L25.4 6.6M26.2 1.3H29.3M26.6 4.2H29.3M26.1 5.4H29.0M27.8 1.3V6.9M27.7 3.7L29.2 6.6M30.4 1.8H36.7M30.4 3.2H36.7M31.3 6.0H36.0M32.3 1.8V6.9M35.2 1.1V6.1" stroke="#555" stroke-width="0.95" fill="none"/></svg>
<div style="position:absolute;left:54.50px;top:0.30px;font-size:8.5px;line-height:8.5px;color:#555;font-weight:normal;white-space:nowrap;">/m</div>
</div>
<div style="position:absolute;left:129.00px;top:561.62px;width:43.00px;height:120.38px;background:#8cba00"></div>
<div style="position:absolute;left:-149.50px;width:600px;text-align:center;top:552.12px;font-size:7px;line-height:7px;color:#111;font-weight:bold;white-space:nowrap;letter-spacing:-0.1px;text-shadow:0 0 1px #fff">300.0</div>
<div style="position:absolute;left:218.00px;top:624.34px;width:43.00px;height:57.66px;background:#8cba00"></div>
<div style="position:absolute;left:-60.50px;width:600px;text-align:center;top:614.84px;font-size:7px;line-height:7px;color:#111;font-weight:bold;white-space:nowrap;letter-spacing:-0.1px;text-shadow:0 0 1px #fff">143.7</div>
<div style="position:absolute;left:307.00px;top:629.03px;width:43.00px;height:52.97px;background:#8cba00"></div>
<div style="position:absolute;left:28.50px;width:600px;text-align:center;top:619.53px;font-size:7px;line-height:7px;color:#111;font-weight:bold;white-space:nowrap;letter-spacing:-0.1px;text-shadow:0 0 1px #fff">132.0</div>
<div style="position:absolute;left:396.00px;top:673.93px;width:43.00px;height:8.07px;background:#8cba00"></div>
<div style="position:absolute;left:117.50px;width:600px;text-align:center;top:664.43px;font-size:7px;line-height:7px;color:#111;font-weight:bold;white-space:nowrap;letter-spacing:-0.1px;text-shadow:0 0 1px #fff">20.1</div>
<div style="position:absolute;left:206.50px;width:600px;text-align:center;top:672.50px;font-size:7px;line-height:7px;color:#111;font-weight:bold;white-space:nowrap;letter-spacing:-0.1px;text-shadow:0 0 1px #fff">0.0</div>
<svg style="position:absolute;left:126.00px;top:679.00px;opacity:1.0" width="404.0" height="25.0"><rect x="6" y="6" width="392.0" height="13.0" rx="6.5" fill="#000" filter="url(#nf5)"/></svg>
<div style="position:absolute;left:568.00px;top:484.00px;width:496.00px;height:221.00px;box-sizing:border-box;border:2px solid #fbfbfb;background:#f2f2f2"></div>
<svg style="position:absolute;left:700.50px;top:481.50px;opacity:1.0" width="211.0" height="25.5"><rect x="6" y="6" width="199.0" height="13.5" rx="6.8" fill="#000" filter="url(#nf5)"/></svg>
<svg style="position:absolute;left:726.00px;top:505.00px;filter:blur(0.2px)" width="31.8" height="7.8" viewBox="0 0 31.8 7.8"><path d="M1.1 1.4H7.0M0.7 3.4H7.0M1.5 6.1H6.1M2.4 1.0V6.4M5.1 1.0V6.1M3.9 3.9L7.0 7.0M9.1 0.8H14.1M8.9 2.3H14.0M8.7 3.5H14.3M12.2 0.7V3.7M8.7 4.8H15.3M9.7 5.9H15.0M9.2 6.9H14.6M9.7 4.6V7.2M13.0 4.9V7.3M11.9 5.9L14.9 7.2M16.4 1.8H19.2M16.6 4.4H19.1M16.9 6.1H19.0M18.1 2.1V6.1M17.8 3.9L19.1 7.0M19.9 1.2H22.8M20.3 3.6H22.7M20.0 6.0H23.0M21.5 2.1V7.0M24.3 0.5H31.2V7.3H24.3ZM25.5 2.5H29.6M26.2 3.6H30.0M25.5 5.6H30.0M27.6 2.5V6.1M27.8 3.9L30.0 6.1" stroke="#333" stroke-width="1.0" fill="none"/></svg>
<div style="position:absolute;left:759.00px;top:508.00px;width:1.30px;height:1.30px;background:#444"></div>
<div style="position:absolute;left:759.00px;top:511.00px;width:1.30px;height:1.30px;background:#444"></div>
<div style="position:absolute;left:764.00px;top:505.00px;font-size:8.2px;line-height:8.2px;color:#333;font-weight:normal;white-space:nowrap;letter-spacing:-0.05px">2021-11-17 00:00:00 ~ 2021-11-17 23:59:59</div>
<div style="position:absolute;left:1040.40px;top:487.60px;width:20.50px;height:20.30px;background:#f8f8f8;border-radius:2px"></div>
<div style="position:absolute;left:1045.40px;top:493.60px;width:10.50px;height:1.90px;background:#444;border-radius:0.95px"></div>
<div style="position:absolute;left:1045.40px;top:496.80px;width:10.50px;height:1.90px;background:#444;border-radius:0.95px"></div>
<div style="position:absolute;left:1045.40px;top:500.00px;width:10.50px;height:1.90px;background:#444;border-radius:0.95px"></div>
<div style="position:absolute;left:609.00px;top:682.00px;width:450.00px;height:1.00px;background:#d8dbe8"></div>
<div style="position:absolute;left:0.00px;width:600px;text-align:right;top:678.00px;font-size:7.6px;line-height:7.6px;color:#111;font-weight:bold;white-space:nowrap;letter-spacing:0.3px">0</div>
<div style="position:absolute;left:609.00px;top:649.90px;width:450.00px;height:1.00px;background:#eaeaea"></div>
<div style="position:absolute;left:0.00px;width:600px;text-align:right;top:645.90px;font-size:7.6px;line-height:7.6px;color:#111;font-weight:bold;white-space:nowrap;letter-spacing:0.3px">1k</div>
<div style="position:absolute;left:609.00px;top:617.80px;width:450.00px;height:1.00px;background:#eaeaea"></div>
<div style="position:absolute;left:0.00px;width:600px;text-align:right;top:613.80px;font-size:7.6px;line-height:7.6px;color:#111;font-weight:bold;white-space:nowrap;letter-spacing:0.3px">2k</div>
<div style="position:absolute;left:609.00px;top:585.70px;width:450.00px;height:1.00px;background:#eaeaea"></div>
<div style="position:absolute;left:0.00px;width:600px;text-align:right;top:581.70px;font-size:7.6px;line-height:7.6px;color:#111;font-weight:bold;white-space:nowrap;letter-spacing:0.3px">3k</div>
<div style="position:absolute;left:609.00px;top:553.60px;width:450.00px;height:1.00px;background:#eaeaea"></div>
<div style="position:absolute;left:0.00px;width:600px;text-align:right;top:549.60px;font-size:7.6px;line-height:7.6px;color:#111;font-weight:bold;white-space:nowrap;letter-spacing:0.3px">4k</div>
<div style="position:absolute;left:609.00px;top:521.50px;width:450.00px;height:1.00px;background:#eaeaea"></div>
<div style="position:absolute;left:0.00px;width:600px;text-align:right;top:517.50px;font-size:7.6px;line-height:7.6px;color:#111;font-weight:bold;white-space:nowrap;letter-spacing:0.3px">5k</div>
<div style="position:absolute;left:542.5px;top:596.5px;width:80px;height:9px;transform:rotate(-90deg);">
<svg style="position:absolute;left:17.00px;top:1.00px;filter:blur(0.15px)" width="37.4" height="7.4" viewBox="0 0 37.4 7.4"><path d="M0.4 0.4H7.0V7.0H0.4ZM2.2 2.0H5.9M1.9 3.9H5.3M2.2 5.1H5.6M3.5 1.6V6.0M3.7 3.7L5.8 5.8M8.2 1.2H10.0M8.2 3.2H10.0M8.1 5.4H9.9M8.9 1.8V6.0M11.4 1.4H14.1M11.3 3.9H13.7M11.1 6.0H14.0M12.9 1.4V6.3M16.4 1.4H21.6M16.6 4.2H21.0M15.7 6.2H20.7M16.7 1.3V6.7M19.7 0.9V6.0M23.1 2.0H25.5M23.2 3.9H25.2M23.1 5.7H25.5M24.4 0.6V5.8M24.2 3.4L23.1 6.6M24.2 3.7L25.4 6.6M26.2 1.3H29.3M26.6 4.2H29.3M26.1 5.4H29.0M27.8 1.3V6.9M27.7 3.7L29.2 6.6M30.4 1.8H36.7M30.4 3.2H36.7M31.3 6.0H36.0M32.3 1.8V6.9M35.2 1.1V6.1" stroke="#555" stroke-width="0.95" fill="none"/></svg>
<div style="position:absolute;left:54.50px;top:0.30px;font-size:8.5px;line-height:8.5px;color:#555;font-weight:normal;white-space:nowrap;">/m</div>
</div>
<div style="position:absolute;left:696.50px;top:545.34px;width:50.00px;height:136.66px;background:#8cba00"></div>
<div style="position:absolute;left:421.50px;width:600px;text-align:center;top:535.84px;font-size:7px;line-height:7px;color:#111;font-weight:bold;white-space:nowrap;letter-spacing:-0.1px;text-shadow:0 0 1px #fff">4257.2</div>
<div style="position:absolute;left:921.50px;top:547.82px;width:50.00px;height:134.18px;background:#8cba00"></div>
<div style="position:absolute;left:646.50px;width:600px;text-align:center;top:538.32px;font-size:7px;line-height:7px;color:#111;font-weight:bold;white-space:nowrap;letter-spacing:-0.1px;text-shadow:0 0 1px #fff">4180.0</div>
<svg style="position:absolute;left:696.00px;top:679.00px;opacity:1.0" width="273.0" height="26.0"><rect x="6" y="6" width="261.0" height="14.0" rx="7.0" fill="#000" filter="url(#nf3)"/></svg>
<div style="position:absolute;left:611.6px;top:440.5px;width:16.6px;height:8px;transform-origin:100% 0;transform:rotate(-45deg)">
<svg style="position:absolute;left:0.00px;top:0.00px;filter:blur(0.2px)" width="16.6" height="7.6" viewBox="0 0 16.6 7.6"><path d="M0.9 2.3H2.9M0.7 5.8H3.1M1.8 0.5V5.9M4.3 1.9H6.5M4.3 3.4H6.9M4.2 5.9H6.9M5.4 0.9V6.1M5.4 3.5L3.9 6.8M9.9 0.7H15.2M8.8 1.6H14.5M9.8 2.7H14.2M11.9 0.8V2.6M12.1 1.6L9.3 2.8M12.1 1.7L15.1 2.8M9.2 4.1H14.5M10.0 5.3H14.1M8.8 6.5H15.3M10.1 3.8V7.0M14.2 4.1V6.8" stroke="#333" stroke-width="1.15" fill="none"/></svg>
</div>
<div style="position:absolute;left:639.1px;top:440.5px;width:16.6px;height:8px;transform-origin:100% 0;transform:rotate(-45deg)">
<svg style="position:absolute;left:0.00px;top:0.00px;filter:blur(0.2px)" width="16.6" height="7.6" viewBox="0 0 16.6 7.6"><path d="M1.3 0.9H6.9M0.8 1.6H6.2M1.8 2.4H7.0M3.4 0.5V2.6M3.8 1.6L1.0 2.8M1.5 3.9H6.6M1.1 5.0H6.9M1.3 6.6H6.7M2.6 3.7V6.6M5.1 3.5V6.6M3.8 5.1L1.0 7.0M8.9 2.0H10.9M9.2 5.8H10.9M9.8 1.7V6.6M12.2 1.2H15.0M11.6 4.2H15.0M12.3 6.4H15.4M13.5 1.3V6.2M13.5 3.5L11.8 6.8" stroke="#333" stroke-width="1.15" fill="none"/></svg>
</div>
<div style="position:absolute;left:658.4px;top:440.5px;width:24.9px;height:8px;transform-origin:100% 0;transform:rotate(-45deg)">
<svg style="position:absolute;left:0.00px;top:0.00px;filter:blur(0.2px)" width="24.9" height="7.6" viewBox="0 0 24.9 7.6"><path d="M0.8 2.2H3.3M0.7 5.3H3.0M2.0 1.4V6.1M1.9 3.8L3.2 6.8M4.2 1.5H7.1M3.9 3.3H6.8M4.4 6.5H6.7M5.5 1.3V6.6M5.5 3.8L7.0 6.8M9.4 1.1H14.4M9.3 2.1H14.2M9.0 3.2H14.6M12.3 0.8V3.5M12.1 2.0L9.3 3.7M9.6 5.0H14.8M9.3 6.0H14.6M9.7 6.8H14.9M10.7 4.8V6.6M13.9 4.7V6.6M18.1 1.4H23.0M18.0 4.2H23.2M17.3 6.4H23.3M18.3 0.7V6.5M21.6 1.5V6.4M20.4 3.5L17.6 6.8M20.4 3.8L23.4 6.8" stroke="#333" stroke-width="1.15" fill="none"/></svg>
</div>
<div style="position:absolute;left:694.1px;top:440.5px;width:16.6px;height:8px;transform-origin:100% 0;transform:rotate(-45deg)">
<svg style="position:absolute;left:0.00px;top:0.00px;filter:blur(0.2px)" width="16.6" height="7.6" viewBox="0 0 16.6 7.6"><path d="M1.4 1.8H6.0M1.7 3.2H6.2M1.1 4.8H6.7M1.1 6.5H7.0M2.2 2.1V7.1M6.1 1.6V6.3M3.8 3.5L1.0 6.8M8.7 0.5H15.4V7.1H8.7ZM10.3 2.0H13.8M9.7 3.9H14.3M10.3 5.2H14.0M12.4 2.2V5.3" stroke="#333" stroke-width="1.15" fill="none"/></svg>
</div>
<div style="position:absolute;left:713.4px;top:440.5px;width:24.9px;height:8px;transform-origin:100% 0;transform:rotate(-45deg)">
<svg style="position:absolute;left:0.00px;top:0.00px;filter:blur(0.2px)" width="24.9" height="7.6" viewBox="0 0 24.9 7.6"><path d="M0.8 1.8H6.7M1.5 4.0H7.1M1.7 5.7H7.0M2.3 1.0V6.3M6.0 1.4V6.6M3.8 3.5L1.0 6.8M9.1 0.9H14.1M8.8 2.0H15.4M8.9 2.9H15.2M12.2 0.7V3.2M9.6 4.1H14.4M9.6 5.5H14.2M9.0 6.8H14.7M11.5 4.1V7.0M12.1 5.3L9.3 7.0M17.4 1.7H19.3M17.3 5.4H19.2M18.4 1.3V6.9M18.2 3.5L17.2 6.8M18.2 3.8L19.3 6.8M20.5 2.0H23.1M20.3 3.8H23.1M19.9 6.1H23.0M21.6 1.3V6.5M21.8 3.5L20.2 6.8" stroke="#333" stroke-width="1.15" fill="none"/></svg>
</div>
<div style="position:absolute;left:749.1px;top:440.5px;width:16.6px;height:8px;transform-origin:100% 0;transform:rotate(-45deg)">
<svg style="position:absolute;left:0.00px;top:0.00px;filter:blur(0.2px)" width="16.6" height="7.6" viewBox="0 0 16.6 7.6"><path d="M0.6 1.4H7.1M1.2 3.0H6.8M0.7 5.0H6.0M1.0 5.9H5.9M2.6 1.5V6.0M5.5 1.9V6.2M3.8 3.8L6.8 6.8M9.0 1.1H11.5M9.0 4.3H11.5M8.9 6.2H11.4M10.6 2.0V5.9M12.8 1.9H15.1M12.9 4.3H14.9M12.5 6.2H15.2M13.8 0.9V7.0M13.9 3.5L12.7 6.8" stroke="#333" stroke-width="1.15" fill="none"/></svg>
</div>
<div style="position:absolute;left:768.4px;top:440.5px;width:24.9px;height:8px;transform-origin:100% 0;transform:rotate(-45deg)">
<svg style="position:absolute;left:0.00px;top:0.00px;filter:blur(0.2px)" width="24.9" height="7.6" viewBox="0 0 24.9 7.6"><path d="M1.2 1.4H6.5M0.8 3.4H7.1M4.2 0.9V3.7M3.8 2.2L6.8 3.9M0.8 5.0H6.5M0.8 5.7H6.5M0.9 6.5H6.1M3.4 4.8V7.1M3.8 5.8L6.8 7.0M8.9 1.8H11.6M8.9 3.7H11.2M8.8 6.0H11.7M10.3 1.4V5.8M10.3 3.5L9.0 6.8M12.5 1.6H15.2M12.4 4.0H15.1M12.7 5.9H14.9M13.9 0.7V6.4M17.4 1.6H19.1M17.1 4.1H19.0M17.1 6.3H19.2M18.1 1.8V6.3M18.2 3.5L17.2 6.8M20.5 1.8H23.0M20.4 4.3H23.7M19.9 6.0H23.5M22.0 0.9V7.1M21.8 3.5L20.1 6.8" stroke="#333" stroke-width="1.15" fill="none"/></svg>
</div>
<div style="position:absolute;left:804.1px;top:440.5px;width:16.6px;height:8px;transform-origin:100% 0;transform:rotate(-45deg)">
<svg style="position:absolute;left:0.00px;top:0.00px;filter:blur(0.2px)" width="16.6" height="7.6" viewBox="0 0 16.6 7.6"><path d="M0.6 1.6H3.2M0.9 4.3H3.2M0.9 6.1H2.8M1.8 1.0V6.9M3.9 1.3H6.5M3.9 3.3H6.8M4.0 5.6H6.9M5.7 0.6V6.7M9.7 1.9H14.2M9.1 4.0H15.1M9.6 6.1H14.4M11.0 1.8V5.8M14.0 1.6V6.1" stroke="#333" stroke-width="1.15" fill="none"/></svg>
</div>
<div style="position:absolute;left:823.4px;top:440.5px;width:24.9px;height:8px;transform-origin:100% 0;transform:rotate(-45deg)">
<svg style="position:absolute;left:0.00px;top:0.00px;filter:blur(0.2px)" width="24.9" height="7.6" viewBox="0 0 24.9 7.6"><path d="M0.7 1.8H3.0M0.6 3.6H3.1M0.5 5.8H3.5M2.1 1.2V6.4M4.5 1.7H6.7M4.5 3.3H6.6M4.3 6.0H6.7M5.9 2.0V6.9M9.9 1.6H14.2M9.3 3.4H14.2M9.3 5.7H14.6M10.2 1.8V6.9M13.9 1.4V7.1M17.0 0.5H23.7V7.1H17.0ZM18.6 2.3H22.7M18.1 5.3H22.2M20.2 1.4V5.5" stroke="#333" stroke-width="1.15" fill="none"/></svg>
</div>
<div style="position:absolute;left:850.9px;top:440.5px;width:24.9px;height:8px;transform-origin:100% 0;transform:rotate(-45deg)">
<svg style="position:absolute;left:0.00px;top:0.00px;filter:blur(0.2px)" width="24.9" height="7.6" viewBox="0 0 24.9 7.6"><path d="M0.7 1.7H2.7M0.7 5.5H2.8M1.8 0.9V6.0M1.8 3.5L0.7 6.8M3.8 1.1H6.6M4.1 4.0H7.0M4.3 6.3H6.5M5.5 1.2V6.6M5.4 3.5L3.9 6.8M5.4 3.8L7.0 6.8M9.6 1.7H15.3M9.1 3.3H15.1M9.5 4.6H14.3M9.9 5.9H15.1M10.2 1.7V6.5M13.1 0.6V7.0M12.1 3.5L9.3 6.8M17.3 2.2H19.7M17.3 5.9H19.8M18.4 1.8V6.2M20.6 1.7H23.2M20.7 3.6H23.5M21.0 5.7H23.5M22.4 1.2V6.5" stroke="#333" stroke-width="1.15" fill="none"/></svg>
</div>
<div style="position:absolute;left:878.4px;top:440.5px;width:24.9px;height:8px;transform-origin:100% 0;transform:rotate(-45deg)">
<svg style="position:absolute;left:0.00px;top:0.00px;filter:blur(0.2px)" width="24.9" height="7.6" viewBox="0 0 24.9 7.6"><path d="M1.3 1.6H6.6M1.3 3.2H6.2M1.1 4.7H6.1M1.1 5.9H7.0M2.1 0.5V6.0M6.1 1.8V6.8M3.8 3.5L1.0 6.8M9.2 1.3H11.0M8.9 3.4H11.2M8.9 5.7H11.4M10.0 0.9V6.7M10.1 3.5L9.0 6.8M11.9 2.0H15.2M12.2 3.4H15.3M12.2 6.0H15.0M13.7 1.3V7.1M17.1 1.2H23.6M18.3 3.0H23.5M17.1 4.7H23.7M18.0 6.6H22.8M18.2 1.6V5.8M22.7 1.9V6.5" stroke="#333" stroke-width="1.15" fill="none"/></svg>
</div>
<div style="position:absolute;left:914.1px;top:440.5px;width:16.6px;height:8px;transform-origin:100% 0;transform:rotate(-45deg)">
<svg style="position:absolute;left:0.00px;top:0.00px;filter:blur(0.2px)" width="16.6" height="7.6" viewBox="0 0 16.6 7.6"><path d="M0.5 0.5H7.1V7.1H0.5ZM1.7 2.9H6.0M2.2 5.0H5.6M4.0 2.0V6.1M8.8 0.9H14.5M9.9 1.9H14.8M9.3 2.6H14.7M11.8 0.7V2.7M12.1 1.7L9.3 3.1M9.3 4.4H14.8M10.0 5.5H15.0M9.9 6.6H14.2M12.1 4.3V6.6" stroke="#333" stroke-width="1.15" fill="none"/></svg>
</div>
<div style="position:absolute;left:933.4px;top:440.5px;width:24.9px;height:8px;transform-origin:100% 0;transform:rotate(-45deg)">
<svg style="position:absolute;left:0.00px;top:0.00px;filter:blur(0.2px)" width="24.9" height="7.6" viewBox="0 0 24.9 7.6"><path d="M1.0 1.8H3.0M0.6 3.4H3.1M1.0 5.9H3.0M1.9 1.0V6.8M4.2 1.8H6.9M3.9 3.7H7.1M4.1 5.7H6.6M5.2 2.1V6.0M5.5 3.5L4.1 6.8M8.9 2.5H11.1M9.3 5.8H11.4M10.1 1.3V6.3M10.2 3.5L9.0 6.8M12.6 1.7H15.3M12.5 3.7H15.3M12.5 5.6H15.0M13.8 1.4V7.0M18.0 0.9H23.7M18.2 2.2H23.3M20.3 1.0V2.8M20.4 1.6L17.6 2.8M20.4 1.7L23.4 2.8M18.0 4.2H23.1M17.5 5.0H22.9M17.3 6.7H23.3M20.2 3.4V6.4M20.4 5.1L17.6 7.0" stroke="#333" stroke-width="1.15" fill="none"/></svg>
</div>
<div style="position:absolute;left:969.1px;top:440.5px;width:16.6px;height:8px;transform-origin:100% 0;transform:rotate(-45deg)">
<svg style="position:absolute;left:0.00px;top:0.00px;filter:blur(0.2px)" width="16.6" height="7.6" viewBox="0 0 16.6 7.6"><path d="M0.8 1.1H3.5M1.0 4.2H3.5M0.8 6.1H3.5M2.0 1.1V6.5M4.2 1.6H6.8M4.3 3.5H6.8M4.3 6.0H6.7M5.7 0.8V7.1M5.6 3.5L4.3 6.8M5.6 3.8L7.0 6.8M10.0 1.1H15.2M8.9 2.9H15.3M12.3 1.2V3.7M12.1 2.0L9.3 3.6M9.7 4.6H15.3M9.6 5.9H14.5M9.1 6.9H15.2M10.6 4.9V6.6M14.2 4.7V6.9" stroke="#333" stroke-width="1.15" fill="none"/></svg>
</div>
<div style="position:absolute;left:988.4px;top:440.5px;width:24.9px;height:8px;transform-origin:100% 0;transform:rotate(-45deg)">
<svg style="position:absolute;left:0.00px;top:0.00px;filter:blur(0.2px)" width="24.9" height="7.6" viewBox="0 0 24.9 7.6"><path d="M0.5 2.3H2.5M0.7 5.5H2.5M1.6 1.8V6.6M3.6 2.0H7.1M4.0 4.1H6.9M3.9 5.9H6.6M5.5 1.5V6.8M8.7 0.5H15.4V7.1H8.7ZM10.6 2.2H13.8M10.6 4.1H13.7M10.3 5.5H14.2M12.3 2.3V6.0M12.1 3.6L10.0 6.0M17.1 1.8H20.0M17.2 5.2H20.1M18.6 1.7V6.7M18.6 3.5L17.3 6.8M20.6 1.9H23.4M21.0 3.8H23.7M20.8 5.8H23.3M21.9 0.7V6.0" stroke="#333" stroke-width="1.15" fill="none"/></svg>
</div>
<div style="position:absolute;left:1015.9px;top:440.5px;width:24.9px;height:8px;transform-origin:100% 0;transform:rotate(-45deg)">
<svg style="position:absolute;left:0.00px;top:0.00px;filter:blur(0.2px)" width="24.9" height="7.6" viewBox="0 0 24.9 7.6"><path d="M1.2 1.9H6.7M1.2 4.2H6.8M0.8 6.5H6.7M1.5 1.4V6.9M5.2 1.8V6.9M9.2 2.2H10.8M9.0 5.8H10.8M9.9 1.6V6.4M11.8 1.7H14.8M11.9 3.7H14.8M12.1 6.0H15.3M13.7 2.0V6.3M17.7 0.8H23.5M17.7 1.9H23.0M17.3 2.9H22.8M20.3 0.6V3.3M20.4 1.9L23.4 3.2M17.9 4.3H23.3M17.5 5.7H23.2M17.7 6.7H23.6M19.4 4.1V6.5M21.4 4.0V6.8M20.4 5.3L17.6 7.0" stroke="#333" stroke-width="1.15" fill="none"/></svg>
</div>
<div style="position:absolute;left:64.00px;top:452.00px;width:22.00px;height:22.00px;border-radius:50%;background:#d9d9d9;opacity:0.55"></div>
<div style="position:absolute;left:1038.00px;top:454.00px;width:22.00px;height:22.00px;border-radius:50%;background:#d9d9d9;opacity:0.55"></div>
<div style="position:absolute;left:1093.50px;top:250.50px;width:1018.00px;height:458.50px;background:#fefef7"></div>
<div style="position:absolute;left:2106.00px;top:250.50px;width:5.00px;height:5.00px;background:#98a9c1"></div>
<svg style="position:absolute;left:1106.00px;top:263.00px" width="79.5" height="15" viewBox="0 0 79.5 15"><path d="M1.2 3.1H5.9M1.5 8.2H6.2M0.9 11.3H6.4M4.0 1.1V12.0M3.9 6.8L1.4 13.4M3.9 7.5L6.5 13.4M9.0 3.0H13.1M8.3 7.3H12.9M8.6 12.0H13.3M11.5 1.0V12.1M10.9 6.8L8.2 13.4M16.9 2.9H20.9M17.6 7.4H21.4M17.4 11.3H20.8M19.3 4.0V11.7M19.2 7.5L21.3 13.4M23.0 3.2H29.5M23.2 6.8H29.6M23.2 12.9H29.5M26.2 1.8V11.9M26.2 6.8L23.0 13.4M34.2 3.1H43.9M34.3 6.9H44.4M33.2 12.2H45.5M35.6 4.0V13.2M42.9 1.9V13.8M39.3 6.8L33.8 13.4M48.6 0.9H61.8V14.1H48.6ZM50.5 3.8H59.0M50.9 7.7H58.2M51.8 10.2H60.0M54.9 3.9V11.0M55.2 7.5L59.5 11.8M65.8 2.1H75.5M65.2 3.3H76.9M65.0 5.6H77.5M70.7 2.2V5.5M66.2 8.2H75.3M67.0 10.8H75.3M64.9 12.9H76.7M68.5 8.3V12.9M74.3 7.7V13.3M71.1 10.5L65.6 13.8" stroke="#2a2a2a" stroke-width="1.9" fill="none"/></svg>
<svg style="position:absolute;left:2083px;top:263.5px" width="15" height="15" viewBox="0 0 15 15"><path d="M1 1L14 14M14 1L1 14" stroke="#444" stroke-width="1.5"/></svg>
<svg style="position:absolute;left:1138.00px;top:312.00px" width="25.9" height="12" viewBox="0 0 25.9 12"><path d="M0.8 1.9H3.7M1.2 6.1H4.3M0.7 10.3H4.4M2.4 2.7V10.2M2.6 5.5L1.0 10.8M6.3 1.7H10.8M5.5 5.5H10.8M5.4 10.3H11.0M8.3 2.2V9.3M14.4 1.7H17.8M13.9 6.3H17.9M13.9 9.9H18.0M15.9 0.8V10.6M16.2 5.5L14.1 10.8M20.3 3.3H23.3M19.7 6.5H24.1M19.9 9.7H23.6M21.4 1.2V9.3" stroke="#8a8a8a" stroke-width="1.1" fill="none"/></svg>
<svg style="position:absolute;left:1202px;top:309px" width="78" height="18" viewBox="0 0 78 18"><g stroke="#3b8cf0" stroke-width="1.6" fill="none"><path d="M2 9H14M8 3V15"/><path d="M22 9H34"/><path d="M48 3V15M44 7L48 3L52 7"/><path d="M68 5V16M64 12L68 16L72 12"/></g></svg>
<svg style="position:absolute;left:1301.00px;top:312.00px" width="40.5" height="12.5" viewBox="0 0 40.5 12.5"><path d="M0.9 2.9H4.8M1.0 5.4H4.5M1.3 9.1H4.0M2.7 2.4V10.6M6.6 3.0H10.7M5.8 7.0H11.6M6.7 9.2H11.6M8.2 0.8V11.6M8.6 5.7L6.0 11.2M14.9 2.0H17.8M14.7 6.4H17.8M14.4 10.1H18.2M16.1 1.9V9.6M16.4 5.7L14.6 11.2M16.4 6.2L18.2 11.2M19.4 1.7H25.1M20.2 7.1H25.1M19.9 9.5H25.1M21.7 2.4V10.7M28.5 3.4H31.5M28.2 6.3H31.9M28.4 9.7H31.9M30.2 2.2V10.4M34.0 2.8H38.2M32.8 5.6H37.7M33.8 9.3H37.8M35.7 1.4V10.9" stroke="#5fa0ee" stroke-width="1.2" fill="none"/></svg>
<svg style="position:absolute;left:1375.00px;top:312.00px" width="27.0" height="12.5" viewBox="0 0 27.0 12.5"><path d="M2.7 1.6H10.6M2.9 3.4H9.8M1.5 5.5H10.2M6.2 1.1V5.3M6.2 3.1L1.6 5.7M2.4 7.9H9.9M2.5 9.4H11.1M2.4 10.8H11.2M4.3 7.1V10.9M10.1 8.0V11.7M6.2 9.0L1.6 11.5M14.2 0.8H25.2V11.8H14.2ZM16.3 3.4H22.7M16.4 6.3H22.7M16.3 9.4H22.7M20.0 4.0V10.1M19.8 5.8L16.4 9.8" stroke="#8a8a8a" stroke-width="1.0" fill="none"/></svg>
<svg style="position:absolute;left:1430.00px;top:312.00px" width="54.0" height="12.5" viewBox="0 0 54.0 12.5"><path d="M2.7 2.3H10.9M1.7 4.9H11.1M5.4 1.4V5.7M6.2 3.0L1.6 5.6M0.9 7.7H11.6M2.0 9.0H9.9M2.8 11.1H10.5M6.6 7.0V11.4M6.2 8.9L1.6 11.5M14.8 1.6H23.7M15.7 3.0H25.1M15.2 4.9H24.0M20.7 1.0V5.6M14.4 7.7H23.6M15.2 9.6H24.2M14.9 10.6H24.7M16.6 6.6V11.4M21.6 7.2V11.3M19.8 8.9L15.1 11.5M28.3 3.4H31.6M28.4 5.5H32.1M28.5 9.6H31.7M29.9 1.7V11.1M34.0 2.6H38.6M33.4 5.6H38.7M33.6 10.2H38.6M36.1 3.2V10.0M35.9 6.2L38.5 11.2M41.6 2.1H51.2M43.0 3.6H51.7M42.8 5.5H50.4M47.3 1.9V5.6M42.6 8.0H50.9M41.4 9.1H51.4M43.2 11.0H51.9M44.0 7.5V11.4M49.7 7.8V11.3M46.8 9.1L42.1 11.5" stroke="#8a8a8a" stroke-width="1.0" fill="none"/></svg>
<svg style="position:absolute;left:1504.00px;top:312.00px" width="54.0" height="12.5" viewBox="0 0 54.0 12.5"><path d="M1.4 2.0H9.6M2.4 3.6H10.1M1.4 5.7H10.9M6.7 1.6V5.4M6.2 3.2L1.6 6.0M1.8 7.5H10.1M1.8 9.3H11.7M0.9 11.3H11.0M6.4 7.6V11.4M6.2 9.1L1.6 11.5M15.3 1.7H24.4M14.8 2.7H23.9M15.4 4.3H23.6M20.6 1.6V4.2M19.8 2.7L24.7 4.5M14.7 6.4H24.4M16.3 8.1H23.7M15.5 10.4H24.9M18.0 5.6V11.6M22.9 5.5V10.9M28.9 2.2H37.5M29.5 4.6H37.2M34.0 1.6V5.4M29.7 7.1H38.5M27.9 9.3H37.5M28.8 10.7H37.2M31.2 6.4V10.8M36.3 6.5V11.0M41.5 3.4H50.3M41.5 6.6H51.3M42.0 9.1H51.0M43.0 2.4V9.8M48.6 1.6V10.0" stroke="#8a8a8a" stroke-width="1.0" fill="none"/></svg>
<svg style="position:absolute;left:1582.00px;top:312.00px" width="40.5" height="12.5" viewBox="0 0 40.5 12.5"><path d="M0.8 3.2H5.5M1.5 5.8H5.7M1.3 10.0H5.6M3.8 3.4V11.0M7.5 2.0H11.1M7.2 5.7H11.3M7.7 10.1H11.2M8.9 3.5V9.8M15.2 4.1H18.8M14.5 9.4H19.5M17.0 2.0V10.6M20.9 2.2H25.1M21.3 6.6H24.8M20.3 10.3H24.9M22.8 2.2V9.7M22.8 5.7L20.7 11.2M22.8 6.2L25.0 11.2M28.4 3.4H31.1M28.3 5.7H31.4M28.5 10.4H31.6M29.8 2.7V9.7M29.8 5.7L28.1 11.2M29.8 6.2L31.6 11.2M32.7 2.4H38.2M32.9 5.7H37.7M32.9 9.4H38.2M35.8 1.2V11.5" stroke="#8a8a8a" stroke-width="1.0" fill="none"/></svg>
<div style="position:absolute;left:1139.50px;top:352.50px;width:121.50px;height:22.50px;box-sizing:border-box;background:#d3e6fb;border:1px solid #7db3ee"></div>
<svg style="position:absolute;left:1128.00px;top:348.00px;opacity:1.0" width="112.0" height="30.0"><rect x="6" y="6" width="100.0" height="18.0" rx="9.0" fill="#000" filter="url(#nf4)"/></svg>
<svg style="position:absolute;left:1331.00px;top:357.00px" width="51.8" height="12" viewBox="0 0 51.8 12"><path d="M1.0 4.0H3.9M0.9 8.3H4.0M2.9 0.7V10.8M2.7 6.0L4.4 10.8M6.5 3.3H10.9M6.2 5.6H10.6M6.0 8.9H10.8M8.0 2.7V11.1M8.3 5.5L5.8 10.8M15.1 1.8H22.2M14.4 3.1H22.9M19.2 0.9V3.6M13.9 5.6H24.2M15.5 8.3H23.8M13.8 9.8H22.2M18.8 5.8V10.9M19.0 7.8L14.5 11.0M19.0 8.1L23.7 11.0M27.2 3.7H29.9M27.3 9.2H29.7M28.7 3.1V10.4M28.5 6.0L30.2 10.8M31.3 2.7H36.1M31.6 5.5H36.6M32.1 9.9H37.1M34.4 2.2V9.3M34.2 5.5L31.6 10.8M40.2 1.9H49.2M40.8 3.1H49.7M40.6 5.0H49.7M45.9 1.5V5.5M44.9 3.4L49.6 5.9M39.9 7.7H48.1M41.1 9.1H49.0M41.7 10.5H48.3M42.9 6.9V10.8M48.5 7.6V10.8M44.9 9.1L49.6 11.1" stroke="#8a8a8a" stroke-width="1.0" fill="none"/></svg>
<div style="position:absolute;left:1389.00px;top:362.00px;width:3.00px;height:3.00px;background:#999"></div>
<svg style="position:absolute;left:1403.00px;top:357.00px" width="51.8" height="12" viewBox="0 0 51.8 12"><path d="M1.0 1.2H11.1M1.9 2.6H10.0M0.9 3.4H10.8M6.2 1.2V3.8M2.4 6.1H11.3M2.2 8.4H10.6M2.7 9.9H10.6M2.5 5.1V10.2M8.9 6.3V10.4M14.3 2.6H18.1M13.9 5.5H18.1M13.8 9.1H17.9M16.0 1.7V10.5M15.9 5.5L14.0 10.8M15.9 6.0L17.9 10.8M19.1 2.7H23.5M19.3 5.4H23.2M19.5 9.8H23.5M21.9 2.8V10.8M21.6 5.5L19.3 10.8M27.0 2.0H29.8M26.8 6.2H30.4M27.1 9.9H29.9M28.5 2.3V10.5M28.6 6.0L30.3 10.8M31.3 1.8H37.1M32.2 6.2H36.7M31.7 8.8H36.0M34.2 3.3V9.5M34.2 5.5L31.7 10.8M40.3 1.7H49.5M39.6 2.8H48.6M41.7 4.9H48.6M44.9 0.8V4.9M41.2 6.8H49.0M40.7 9.0H50.2M39.6 10.3H48.2M45.7 7.3V11.0M44.9 8.5L40.4 11.0" stroke="#8a8a8a" stroke-width="1.0" fill="none"/></svg>
<svg style="position:absolute;left:1526px;top:359px" width="11" height="8"><path d="M1 1H10L5.5 7Z" fill="#455a7a"/></svg>
<svg style="position:absolute;left:1331.00px;top:389.00px" width="51.8" height="12" viewBox="0 0 51.8 12"><path d="M1.1 4.1H4.8M1.3 8.0H4.9M3.1 2.2V10.0M6.2 2.3H11.2M6.3 5.4H11.1M6.3 10.1H10.9M9.2 1.4V10.9M8.7 5.5L6.6 10.8M14.3 3.0H16.9M14.3 8.0H16.9M15.8 2.5V11.1M18.8 2.2H23.7M18.1 5.4H23.8M18.3 10.2H23.3M21.3 0.9V9.2M21.1 6.0L23.9 10.8M26.7 2.4H35.2M26.8 4.9H36.9M28.0 6.6H36.9M26.9 10.5H36.1M29.2 0.8V11.3M35.4 3.3V11.0M40.7 1.4H49.6M40.6 5.1H49.4M39.8 8.1H50.1M41.4 10.3H48.7M41.6 3.2V10.4M47.7 1.8V9.6M44.9 5.5L40.4 10.8M44.9 6.0L49.6 10.8" stroke="#8a8a8a" stroke-width="1.0" fill="none"/></svg>
<div style="position:absolute;left:1313.00px;top:427.00px;width:3.00px;height:3.00px;background:#777"></div>
<svg style="position:absolute;left:1324.00px;top:421.00px" width="67.5" height="12.5" viewBox="0 0 67.5 12.5"><path d="M1.0 2.9H5.4M0.8 8.3H5.2M3.1 3.5V10.2M3.1 5.7L1.1 11.2M6.5 2.3H11.4M6.7 5.6H11.1M6.5 9.5H10.7M9.3 1.5V11.0M8.9 5.7L6.6 11.2M14.3 4.0H17.4M14.8 9.3H17.5M16.3 3.1V10.0M16.2 5.7L14.6 11.2M19.6 2.7H25.0M19.9 6.2H24.4M19.9 9.6H24.2M21.5 1.2V11.3M22.1 5.7L19.4 11.2M28.6 1.6H38.0M28.2 2.9H37.2M29.4 5.3H37.3M33.2 0.9V4.8M33.2 3.2L38.2 5.5M27.9 7.7H38.6M28.1 9.1H37.6M29.6 11.0H36.6M29.5 7.1V10.7M37.0 7.8V11.0M41.2 0.8H52.2V11.8H41.2ZM43.2 4.0H50.1M44.3 8.3H50.6M46.4 4.1V9.2M46.8 5.8L43.4 9.8M56.0 2.0H65.5M55.9 5.4H65.0M59.2 1.1V6.1M55.7 8.5H65.5M55.6 9.9H65.5M56.8 11.4H65.4M59.2 8.4V11.4" stroke="#333" stroke-width="1.3" fill="none"/></svg>
<svg style="position:absolute;left:1314px;top:444px" width="112" height="22" viewBox="0 0 112 22"><g stroke="#3b8cf0" stroke-width="2" fill="none"><path d="M5 18V9Q5 6 7 6Q9 6 9 9V12M9 9Q9 4 11 4Q13 4 13 9V12" stroke-width="1.3"/><path d="M25 11H41M33 3V19"/><path d="M48 11H64"/><path d="M80 3V20M74 9L80 3L86 9"/><path d="M103 2V19M97 13L103 19L109 13"/></g></svg>
<div style="position:absolute;left:1362.00px;top:487.50px;font-size:12px;line-height:12px;color:#a0a0a0;font-weight:normal;white-space:nowrap;letter-spacing:0.1px">LA2 [...</div>
<div style="position:absolute;left:1362.00px;top:519.50px;font-size:12px;line-height:12px;color:#a0a0a0;font-weight:normal;white-space:nowrap;letter-spacing:0.1px">LA3 [...</div>
<div style="position:absolute;left:1362.00px;top:551.50px;font-size:12px;line-height:12px;color:#a0a0a0;font-weight:normal;white-space:nowrap;letter-spacing:0.1px">LA4 [...</div>
<div style="position:absolute;left:1362.00px;top:583.50px;font-size:12px;line-height:12px;color:#555;font-weight:normal;white-space:nowrap;letter-spacing:0.1px">LA5 [...</div>
<div style="position:absolute;left:1322.50px;top:579.00px;width:90.00px;height:22.50px;box-sizing:border-box;background:#cfe2fa;border:1px solid #78aeee"></div>
<div style="position:absolute;left:1362.00px;top:583.50px;font-size:12px;line-height:12px;color:#3a4a60;font-weight:normal;white-space:nowrap;letter-spacing:0.1px">LA5 [...</div>
<svg style="position:absolute;left:1317.00px;top:480.00px;opacity:1.0" width="50.0" height="125.0"><rect x="6" y="6" width="38.0" height="113.0" rx="5.0" fill="#000" filter="url(#nf2)"/></svg>
<svg style="position:absolute;left:1438.00px;top:475.00px" width="25.9" height="12" viewBox="0 0 25.9 12"><path d="M1.7 1.6H10.6M2.8 3.1H10.6M1.4 4.2H10.6M5.0 1.7V5.0M1.7 6.5H10.9M0.9 8.4H10.7M0.9 10.7H10.3M2.7 6.4V11.1M8.6 6.7V10.6M6.0 8.4L1.6 11.0M13.9 3.2H18.5M14.1 8.6H18.3M16.3 1.3V9.5M20.2 2.7H24.2M19.9 6.7H23.9M19.7 9.4H24.0M21.9 2.6V10.1M21.9 6.0L24.0 10.8" stroke="#8a8a8a" stroke-width="1.0" fill="none"/></svg>
<div style="position:absolute;left:1469.00px;top:480.00px;width:2.00px;height:2.00px;background:#999"></div>
<div style="position:absolute;left:1469.00px;top:484.00px;width:2.00px;height:2.00px;background:#999"></div>
<svg style="position:absolute;left:1451.00px;top:507.00px" width="13.0" height="12" viewBox="0 0 13.0 12"><path d="M1.2 3.6H4.2M0.7 9.4H3.9M2.8 2.5V9.3M6.2 3.0H10.4M5.9 5.5H10.4M5.4 10.2H10.7M7.7 1.9V10.5M8.2 6.0L11.0 10.8" stroke="#8a8a8a" stroke-width="1.0" fill="none"/></svg>
<div style="position:absolute;left:1469.00px;top:512.00px;width:2.00px;height:2.00px;background:#999"></div>
<div style="position:absolute;left:1469.00px;top:516.00px;width:2.00px;height:2.00px;background:#999"></div>
<svg style="position:absolute;left:1438.00px;top:539.00px" width="25.9" height="12" viewBox="0 0 25.9 12"><path d="M0.8 2.9H5.4M1.3 9.0H5.6M3.6 1.0V10.7M6.6 3.0H10.6M7.4 5.8H11.0M7.2 10.2H11.1M8.6 1.1V9.3M8.9 5.5L6.9 10.8M8.9 6.0L11.0 10.8M13.9 2.9H16.9M14.4 8.5H17.3M15.3 0.8V11.0M15.6 6.0L17.3 10.8M18.4 2.1H23.3M18.4 5.3H23.3M19.3 10.1H24.0M21.7 0.9V9.4M21.2 6.0L23.9 10.8" stroke="#8a8a8a" stroke-width="1.0" fill="none"/></svg>
<div style="position:absolute;left:1469.00px;top:544.00px;width:2.00px;height:2.00px;background:#999"></div>
<div style="position:absolute;left:1469.00px;top:548.00px;width:2.00px;height:2.00px;background:#999"></div>
<svg style="position:absolute;left:1438.00px;top:571.00px" width="25.9" height="12" viewBox="0 0 25.9 12"><path d="M1.6 2.4H4.7M1.0 6.1H5.2M1.4 10.1H5.5M3.1 2.6V10.3M6.9 2.8H10.5M6.5 5.5H10.4M6.5 9.9H10.8M8.7 1.4V10.2M8.7 5.5L6.6 10.8M13.7 0.7H24.2V11.3H13.7ZM15.7 3.0H22.8M15.2 5.7H21.9M15.4 8.6H22.8M19.3 2.6V9.3M19.0 5.6L15.7 9.5" stroke="#666" stroke-width="1.0" fill="none"/></svg>
<div style="position:absolute;left:1469.00px;top:576.00px;width:2.00px;height:2.00px;background:#999"></div>
<div style="position:absolute;left:1469.00px;top:580.00px;width:2.00px;height:2.00px;background:#999"></div>
<svg style="position:absolute;left:1482.00px;top:469.00px;opacity:1.0" width="78.0" height="22.0"><rect x="6" y="6" width="66.0" height="10.0" rx="5.0" fill="#000" filter="url(#nf5)"/></svg>
<svg style="position:absolute;left:1482.00px;top:501.00px;opacity:1.0" width="73.0" height="22.0"><rect x="6" y="6" width="61.0" height="10.0" rx="5.0" fill="#000" filter="url(#nf9)"/></svg>
<svg style="position:absolute;left:1636px;top:471px" width="14" height="18" viewBox="0 0 14 18"><path d="M3 16V7Q3 4 5 4Q7 4 7 7V4Q7 1 9 1Q11 1 11 4V12" stroke="#5aa0ec" stroke-width="1.3" fill="none"/></svg>
<svg style="position:absolute;left:1636px;top:503px" width="14" height="18" viewBox="0 0 14 18"><path d="M3 16V7Q3 4 5 4Q7 4 7 7V4Q7 1 9 1Q11 1 11 4V12" stroke="#5aa0ec" stroke-width="1.3" fill="none"/></svg>
<svg style="position:absolute;left:1636px;top:535px" width="14" height="18" viewBox="0 0 14 18"><path d="M3 16V7Q3 4 5 4Q7 4 7 7V4Q7 1 9 1Q11 1 11 4V12" stroke="#5aa0ec" stroke-width="1.3" fill="none"/></svg>
<svg style="position:absolute;left:1484.00px;top:600.00px" width="51.8" height="12" viewBox="0 0 51.8 12"><path d="M1.4 2.1H5.2M0.8 5.8H4.8M1.0 10.3H5.2M3.0 1.0V10.9M3.0 5.5L1.1 10.8M6.2 2.9H11.0M6.3 6.8H10.2M6.7 9.7H10.6M8.3 2.6V10.7M8.6 5.5L6.4 10.8M8.6 6.0L11.0 10.8M13.8 3.4H17.6M13.8 7.8H17.4M15.9 1.8V11.0M15.8 5.5L14.0 10.8M19.6 2.1H24.0M19.1 5.3H23.2M19.1 9.2H23.1M20.9 3.0V9.7M26.8 2.8H37.0M28.5 4.2H36.9M27.5 6.5H35.8M28.3 9.6H36.2M28.9 0.9V9.5M33.9 1.2V10.3M31.9 5.5L27.5 10.8M39.7 2.8H43.4M39.9 9.2H43.2M41.5 2.4V9.8M41.6 5.5L39.9 10.8M45.2 2.9H49.1M45.2 6.3H49.6M45.1 9.5H49.5M46.7 2.0V9.3" stroke="#666" stroke-width="1.1" fill="none"/></svg>
<svg style="position:absolute;left:1548.00px;top:600.00px" width="38.9" height="12" viewBox="0 0 38.9 12"><path d="M2.4 1.7H9.4M2.1 5.7H10.9M0.7 9.0H10.7M3.6 3.0V11.2M8.6 0.8V9.4M14.9 1.6H22.9M14.3 3.7H23.5M15.7 5.0H23.6M18.5 1.3V5.2M19.0 3.1L14.5 5.7M19.0 3.3L23.7 5.7M14.9 7.5H24.2M13.9 8.8H23.5M15.8 10.8H22.5M18.7 7.3V10.4M19.0 8.7L14.5 11.0M27.8 1.1H35.3M28.7 2.6H35.6M28.2 4.3H35.2M32.2 1.1V4.4M27.2 6.8H35.1M28.7 8.9H35.2M27.8 10.7H35.4M31.7 5.8V10.3M31.9 8.5L36.7 11.0" stroke="#8a8a8a" stroke-width="1.0" fill="none"/></svg>
<div style="position:absolute;left:1604.50px;top:597.00px;width:27.00px;height:18.50px;background:#f36b8e"></div>
<svg style="position:absolute;left:1638px;top:603px" width="10" height="8"><path d="M1 1H9L5 7Z" fill="#455a7a"/></svg>
<svg style="position:absolute;left:1123.00px;top:681.00px" width="92.4" height="12" viewBox="0 0 92.4 12"><path d="M0.9 3.0H4.6M0.8 8.1H4.8M3.1 2.1V9.6M6.4 2.9H11.1M6.1 5.7H10.6M6.2 9.0H10.3M8.6 3.2V9.2M8.7 6.0L11.0 10.8M13.9 2.1H17.6M14.0 5.8H17.6M14.2 9.2H17.5M15.9 3.0V10.7M15.9 5.5L14.2 10.8M19.1 1.9H23.8M19.4 5.6H23.6M18.9 10.0H23.6M21.0 3.0V10.8M21.5 5.5L19.0 10.8M27.1 0.7H37.7V11.3H27.1ZM29.0 4.0H36.0M29.4 5.5H35.9M28.7 9.1H34.7M32.3 3.7V9.2M32.4 5.6L29.2 9.5M42.1 1.2H50.4M41.5 3.1H48.8M41.8 5.2H50.8M45.4 1.1V5.4M45.6 3.2L50.4 5.4M41.5 7.4H50.2M40.9 8.8H50.7M41.7 10.5H50.2M43.5 7.1V11.0M49.0 6.4V11.0M45.6 8.6L41.2 11.0M54.2 3.5H58.7M54.0 9.3H58.3M56.6 2.5V9.6M56.1 5.5L53.9 10.8M56.1 6.0L58.5 10.8M60.1 2.4H64.0M60.0 6.1H63.4M60.1 9.1H63.9M62.2 2.7V10.5M61.8 5.5L59.9 10.8M67.4 3.6H70.6M66.7 8.6H71.4M69.5 1.0V10.7M72.6 2.6H76.4M72.5 5.2H76.3M73.1 9.0H76.7M74.9 2.4V10.3M74.8 6.0L77.0 10.8M80.0 2.9H84.5M80.3 6.3H84.4M80.2 9.2H84.2M82.5 1.4V10.8M82.4 6.0L84.5 10.8M85.6 2.6H90.2M86.4 5.9H89.9M86.1 10.1H90.0M88.0 3.2V9.7M88.0 5.5L85.9 10.8" stroke="#8a8a8a" stroke-width="1.0" fill="none"/></svg>
<svg style="position:absolute;left:1250.00px;top:681.00px" width="52.8" height="12" viewBox="0 0 52.8 12"><path d="M1.2 3.1H4.9M1.3 9.0H4.7M3.4 2.6V10.6M3.0 5.5L1.1 10.8M6.0 2.4H11.2M6.5 5.7H10.5M6.9 10.2H11.0M8.5 1.7V10.2M8.6 5.5L6.4 10.8M15.1 1.7H24.2M14.4 3.1H24.4M14.7 4.2H22.7M18.5 0.8V4.5M19.2 2.6L14.8 4.7M15.8 6.6H23.7M15.7 8.1H23.3M14.5 10.5H23.8M16.5 5.8V10.5M22.2 6.0V10.3M28.0 3.0H36.3M28.2 5.2H35.6M27.5 8.7H35.9M30.5 1.3V10.6M34.9 1.7V9.9M32.4 5.5L28.0 10.8M32.4 6.0L37.2 10.8M41.6 2.0H49.3M41.8 4.0H50.2M40.7 5.4H50.3M46.4 1.7V6.2M40.5 7.7H50.5M41.1 9.2H50.8M41.6 10.7H50.2M44.6 7.4V10.8M45.6 9.0L41.2 11.1M45.6 9.2L50.4 11.1" stroke="#8a8a8a" stroke-width="1.0" fill="none"/></svg>
<svg style="position:absolute;left:1767.00px;top:309.00px;filter:blur(0.2px)" width="80.2" height="15" viewBox="0 0 80.2 15"><path d="M0.9 1.8H13.7M3.1 3.9H14.1M2.8 5.5H13.5M8.0 1.8V6.4M3.0 9.1H13.2M3.3 10.7H13.5M1.5 13.3H12.9M7.7 9.1V13.1M17.1 3.6H23.2M17.3 7.3H22.9M18.1 12.6H23.0M19.6 1.5V13.6M24.8 2.1H30.0M24.6 8.2H29.9M25.2 12.1H30.1M26.8 3.9V13.0M27.2 6.8L24.6 13.4M33.3 3.2H44.8M35.0 6.2H45.0M35.3 8.5H43.9M33.0 12.6H44.0M37.4 2.6V13.2M42.1 3.7V11.7M50.2 5.2H54.3M49.3 10.8H55.0M52.5 1.7V12.3M52.1 6.8L49.5 13.4M52.1 7.5L54.8 13.4M56.1 2.4H61.0M56.5 7.3H61.3M57.0 11.3H62.0M59.4 3.4V13.8M59.1 6.8L56.5 13.4M65.5 4.5H70.2M65.7 10.3H69.9M67.9 1.5V14.0M72.0 3.5H77.9M72.3 6.8H78.0M71.9 11.2H77.7M74.7 1.6V11.5M74.8 6.8L71.9 13.4" stroke="#555" stroke-width="1.15" fill="none"/></svg>
<svg style="position:absolute;left:1915.00px;top:309.00px;filter:blur(0.2px)" width="64.2" height="15" viewBox="0 0 64.2 15"><path d="M1.8 4.1H5.5M1.1 7.9H5.4M1.5 11.8H6.2M3.4 3.7V13.8M3.6 6.8L1.3 13.4M7.4 3.7H12.8M7.6 8.2H13.1M7.8 10.9H13.0M11.1 2.3V13.3M10.7 6.8L7.8 13.4M17.9 5.2H21.8M17.0 10.2H22.0M19.1 4.1V11.6M19.5 6.8L17.4 13.4M19.5 7.5L21.8 13.4M23.4 4.0H28.9M24.0 8.1H29.2M23.7 12.3H28.8M26.0 2.2V13.1M33.4 2.9H38.2M33.7 7.8H37.8M34.0 12.9H38.0M35.6 1.1V12.9M35.6 6.8L33.4 13.4M35.6 7.5L38.0 13.4M40.1 3.1H45.7M40.1 8.5H45.9M40.2 11.8H45.0M42.5 1.4V13.4M42.7 6.8L39.7 13.4M49.4 4.3H53.4M49.5 11.5H53.9M52.3 4.0V13.8M56.2 2.8H61.4M56.6 7.9H61.2M55.9 11.5H60.9M59.4 2.3V13.3M58.8 6.8L55.9 13.4" stroke="#555" stroke-width="1.15" fill="none"/></svg>
<div style="position:absolute;left:1858.00px;top:316.00px;width:4.00px;height:2.00px;background:#ccc"></div>
<div style="position:absolute;left:1990.00px;top:316.00px;width:4.00px;height:2.00px;background:#ccc"></div>
<svg style="position:absolute;left:1788px;top:347.5px" width="19" height="9" viewBox="0 0 19 9"><path d="M1 3Q9.5 -2 18 3L14.5 8.5Q9.5 6 4.5 8.5Z" fill="#6e97f6"/></svg>
<svg style="position:absolute;left:1809.00px;top:339.00px;opacity:1.0" width="63.0" height="21.0"><rect x="6" y="6" width="51.0" height="9.0" rx="4.5" fill="#000" filter="url(#nz1)"/></svg>
<svg style="position:absolute;left:1877px;top:347.5px" width="19" height="9" viewBox="0 0 19 9"><path d="M1 3Q9.5 -2 18 3L14.5 8.5Q9.5 6 4.5 8.5Z" fill="#2fd3b7"/></svg>
<svg style="position:absolute;left:1899.00px;top:340.00px;opacity:1.0" width="59.0" height="20.0"><rect x="6" y="6" width="47.0" height="8.0" rx="4.0" fill="#000" filter="url(#nf3)"/></svg>
<svg style="position:absolute;left:1967px;top:347.5px" width="19" height="9" viewBox="0 0 19 9"><path d="M1 3Q9.5 -2 18 3L14.5 8.5Q9.5 6 4.5 8.5Z" fill="#7f7ef2"/></svg>
<svg style="position:absolute;left:1989.00px;top:340.00px;opacity:1.0" width="61.0" height="20.0"><rect x="6" y="6" width="49.0" height="8.0" rx="4.0" fill="#000" filter="url(#nf4)"/></svg>
<svg style="position:absolute;left:1877px;top:371px" width="19" height="9" viewBox="0 0 19 9"><path d="M1 3Q9.5 -2 18 3L14.5 8.5Q9.5 6 4.5 8.5Z" fill="#f56b8b"/></svg>
<svg style="position:absolute;left:1898.00px;top:363.00px;opacity:1.0" width="67.0" height="21.0"><rect x="6" y="6" width="55.0" height="9.0" rx="4.5" fill="#000" filter="url(#nf5)"/></svg>
<svg style="position:absolute;left:0;top:0" width="2162" height="1361"><path d="M1915.00 443.50A77.9 70.7 0 0 1 1960.79 571.40L1945.92 552.95A52.6 47.9 0 0 0 1915.00 466.30Z" fill="#6f97f6"/><path d="M1960.79 571.40A77.9 70.7 0 0 1 1840.91 536.05L1864.97 529.00A52.6 47.9 0 0 0 1945.92 552.95Z" fill="#2dd3b8"/><path d="M1840.91 536.05A77.9 70.7 0 0 1 1869.21 457.00L1884.08 475.45A52.6 47.9 0 0 0 1864.97 529.00Z" fill="#7f7df3"/><path d="M1869.21 457.00A77.9 70.7 0 0 1 1915.00 443.50L1915.00 466.30A52.6 47.9 0 0 0 1884.08 475.45Z" fill="#f46b8c"/><ellipse cx="1915" cy="514.2" rx="52.6" ry="47.9" fill="#ffffff"/><path d="M1890 582L1883 600H1872" stroke="#7fe0d0" stroke-width="1" fill="none"/></svg>
<svg style="position:absolute;left:1791.00px;top:409.00px;opacity:1.0" width="79.0" height="21.0"><rect x="6" y="6" width="67.0" height="9.0" rx="4.5" fill="#000" filter="url(#nf9)"/></svg>
<div style="position:absolute;left:1836.00px;top:426.00px;font-size:11px;line-height:11px;color:#999;font-weight:normal;white-space:nowrap;font-family:"Liberation Serif",serif;letter-spacing:0.3px">10%</div>
<svg style="position:absolute;left:1735.00px;top:465.00px;opacity:1.0" width="70.0" height="21.0"><rect x="6" y="6" width="58.0" height="9.0" rx="4.5" fill="#000" filter="url(#nz1)"/></svg>
<div style="position:absolute;left:1769.00px;top:485.00px;font-size:11px;line-height:11px;color:#999;font-weight:normal;white-space:nowrap;font-family:"Liberation Serif",serif;letter-spacing:0.3px">20%</div>
<svg style="position:absolute;left:2027.00px;top:464.00px;opacity:1.0" width="76.0" height="21.0"><rect x="6" y="6" width="64.0" height="9.0" rx="4.5" fill="#000" filter="url(#nf3)"/></svg>
<div style="position:absolute;left:2033.00px;top:485.00px;font-size:11px;line-height:11px;color:#999;font-weight:normal;white-space:nowrap;font-family:"Liberation Serif",serif;letter-spacing:0.3px">40%</div>
<svg style="position:absolute;left:1793.00px;top:580.00px;opacity:1.0" width="74.0" height="21.0"><rect x="6" y="6" width="62.0" height="9.0" rx="4.5" fill="#000" filter="url(#nf4)"/></svg>
<div style="position:absolute;left:1836.00px;top:601.00px;font-size:11px;line-height:11px;color:#999;font-weight:normal;white-space:nowrap;font-family:"Liberation Serif",serif;letter-spacing:0.3px">30%</div>
<svg style="position:absolute;left:56px;top:728.5px" width="1012" height="455.5"><g transform="translate(506.0,227.75) rotate(-45)"><rect x="-564" y="-564" width="1128" height="1128" fill="#000" filter="url(#tex)"/></g><rect x="1" y="1" width="1010" height="453.5" fill="none" stroke="#fafafa" stroke-width="2"/></svg>
<svg style="position:absolute;left:391.00px;top:727.50px;opacity:1.0" width="287.0" height="38.5"><rect x="6" y="6" width="275.0" height="26.5" rx="9.0" fill="#000" filter="url(#nf7)"/></svg>
<div style="position:absolute;left:1025.00px;top:742.00px;width:31.50px;height:28.00px;background:#fbfbfb;border-radius:2px"></div>
<div style="position:absolute;left:1030.00px;top:748.00px;width:21.50px;height:3.00px;background:#555;border-radius:1.5px"></div>
<div style="position:absolute;left:1030.00px;top:754.50px;width:21.50px;height:3.00px;background:#555;border-radius:1.5px"></div>
<div style="position:absolute;left:1030.00px;top:761.00px;width:21.50px;height:3.00px;background:#555;border-radius:1.5px"></div>
<div style="position:absolute;left:172.50px;top:1095.00px;width:884.00px;height:1.00px;background:#cdd3e3"></div>
<div style="position:absolute;left:-446.00px;width:600px;text-align:right;top:1087.00px;font-size:16.5px;line-height:16.5px;color:#111;font-weight:bold;white-space:nowrap;-webkit-text-stroke:0.3px #111">0</div>
<div style="position:absolute;left:172.50px;top:1017.50px;width:884.00px;height:1.00px;background:#e5e5e5"></div>
<div style="position:absolute;left:-446.00px;width:600px;text-align:right;top:1009.50px;font-size:16.5px;line-height:16.5px;color:#111;font-weight:bold;white-space:nowrap;-webkit-text-stroke:0.3px #111">250k</div>
<div style="position:absolute;left:172.50px;top:940.00px;width:884.00px;height:1.00px;background:#e5e5e5"></div>
<div style="position:absolute;left:-446.00px;width:600px;text-align:right;top:932.00px;font-size:16.5px;line-height:16.5px;color:#111;font-weight:bold;white-space:nowrap;-webkit-text-stroke:0.3px #111">500k</div>
<div style="position:absolute;left:172.50px;top:862.50px;width:884.00px;height:1.00px;background:#e5e5e5"></div>
<div style="position:absolute;left:-446.00px;width:600px;text-align:right;top:854.50px;font-size:16.5px;line-height:16.5px;color:#111;font-weight:bold;white-space:nowrap;-webkit-text-stroke:0.3px #111">750k</div>
<div style="position:absolute;left:172.50px;top:785.00px;width:884.00px;height:1.00px;background:#e5e5e5"></div>
<div style="position:absolute;left:-446.00px;width:600px;text-align:right;top:777.00px;font-size:16.5px;line-height:16.5px;color:#111;font-weight:bold;white-space:nowrap;-webkit-text-stroke:0.3px #111">1 000k</div>
<div style="position:absolute;left:76px;top:924.5px;width:18px;height:32px;">
<div style="position:absolute;left:-7px;top:7px;width:32px;height:18px;transform:rotate(-90deg)">
<svg style="position:absolute;left:0.00px;top:1.00px;filter:blur(0.2px)" width="32.4" height="15" viewBox="0 0 32.4 15"><path d="M2.3 3.0H12.1M2.0 8.5H13.5M1.1 11.6H12.4M5.5 1.6V12.1M10.0 4.0V12.6M7.5 6.8L2.0 13.4M7.5 7.5L13.4 13.4M17.4 3.3H23.2M17.6 10.1H22.3M20.9 3.5V12.7M20.3 6.8L17.6 13.4M20.3 7.5L23.2 13.4M24.8 3.6H29.5M24.8 6.5H29.3M25.0 12.3H30.2M27.3 3.1V12.8M27.3 6.8L24.9 13.4" stroke="#222" stroke-width="1.35" fill="none"/></svg>
</div></div>
<div style="position:absolute;left:205.00px;top:1056.23px;width:2.50px;height:38.97px;background:linear-gradient(90deg,rgba(110,110,110,0.32),rgba(110,110,110,0.12))"></div>
<div style="position:absolute;left:188.00px;top:1053.73px;width:17.00px;height:41.47px;background:#f25a5d"></div>
<div style="position:absolute;left:225.00px;top:1001.65px;width:2.50px;height:93.55px;background:linear-gradient(90deg,rgba(110,110,110,0.32),rgba(110,110,110,0.12))"></div>
<div style="position:absolute;left:208.00px;top:999.15px;width:17.00px;height:96.05px;background:#7b83ea"></div>
<div style="position:absolute;left:200.0px;top:1103.5px;width:0;height:0"><div style="position:absolute;right:0;top:0;transform-origin:100% 0;transform:rotate(-45deg);font-size:17.5px;line-height:18px;font-weight:bold;color:#111;white-space:nowrap;-webkit-text-stroke:0.3px #111;text-shadow:0 0 2px #fff">2020-11</div></div>
<div style="position:absolute;left:273.00px;top:880.50px;width:2.50px;height:214.70px;background:linear-gradient(90deg,rgba(110,110,110,0.32),rgba(110,110,110,0.12))"></div>
<div style="position:absolute;left:256.00px;top:878.00px;width:17.00px;height:217.20px;background:#f25a5d"></div>
<div style="position:absolute;left:293.00px;top:827.51px;width:2.50px;height:267.69px;background:linear-gradient(90deg,rgba(110,110,110,0.32),rgba(110,110,110,0.12))"></div>
<div style="position:absolute;left:276.00px;top:825.01px;width:17.00px;height:270.19px;background:#7b83ea"></div>
<div style="position:absolute;left:268.0px;top:1103.5px;width:0;height:0"><div style="position:absolute;right:0;top:0;transform-origin:100% 0;transform:rotate(-45deg);font-size:17.5px;line-height:18px;font-weight:bold;color:#111;white-space:nowrap;-webkit-text-stroke:0.3px #111;text-shadow:0 0 2px #fff">2020-12</div></div>
<div style="position:absolute;left:341.00px;top:957.05px;width:2.50px;height:138.15px;background:linear-gradient(90deg,rgba(110,110,110,0.32),rgba(110,110,110,0.12))"></div>
<div style="position:absolute;left:324.00px;top:954.55px;width:17.00px;height:140.65px;background:#f25a5d"></div>
<div style="position:absolute;left:361.00px;top:884.84px;width:2.50px;height:210.36px;background:linear-gradient(90deg,rgba(110,110,110,0.32),rgba(110,110,110,0.12))"></div>
<div style="position:absolute;left:344.00px;top:882.34px;width:17.00px;height:212.86px;background:#7b83ea"></div>
<div style="position:absolute;left:336.0px;top:1103.5px;width:0;height:0"><div style="position:absolute;right:0;top:0;transform-origin:100% 0;transform:rotate(-45deg);font-size:17.5px;line-height:18px;font-weight:bold;color:#111;white-space:nowrap;-webkit-text-stroke:0.3px #111;text-shadow:0 0 2px #fff">2021-01</div></div>
<div style="position:absolute;left:409.00px;top:980.99px;width:2.50px;height:114.21px;background:linear-gradient(90deg,rgba(110,110,110,0.32),rgba(110,110,110,0.12))"></div>
<div style="position:absolute;left:392.00px;top:978.49px;width:17.00px;height:116.71px;background:#f25a5d"></div>
<div style="position:absolute;left:429.00px;top:947.35px;width:2.50px;height:147.85px;background:linear-gradient(90deg,rgba(110,110,110,0.32),rgba(110,110,110,0.12))"></div>
<div style="position:absolute;left:412.00px;top:944.85px;width:17.00px;height:150.35px;background:#7b83ea"></div>
<div style="position:absolute;left:404.0px;top:1103.5px;width:0;height:0"><div style="position:absolute;right:0;top:0;transform-origin:100% 0;transform:rotate(-45deg);font-size:17.5px;line-height:18px;font-weight:bold;color:#111;white-space:nowrap;-webkit-text-stroke:0.3px #111;text-shadow:0 0 2px #fff">2021-02</div></div>
<div style="position:absolute;left:477.00px;top:987.30px;width:2.50px;height:107.90px;background:linear-gradient(90deg,rgba(110,110,110,0.32),rgba(110,110,110,0.12))"></div>
<div style="position:absolute;left:460.00px;top:984.80px;width:17.00px;height:110.40px;background:#f25a5d"></div>
<div style="position:absolute;left:497.00px;top:879.31px;width:2.50px;height:215.89px;background:linear-gradient(90deg,rgba(110,110,110,0.32),rgba(110,110,110,0.12))"></div>
<div style="position:absolute;left:480.00px;top:876.81px;width:17.00px;height:218.39px;background:#7b83ea"></div>
<div style="position:absolute;left:472.0px;top:1103.5px;width:0;height:0"><div style="position:absolute;right:0;top:0;transform-origin:100% 0;transform:rotate(-45deg);font-size:17.5px;line-height:18px;font-weight:bold;color:#111;white-space:nowrap;-webkit-text-stroke:0.3px #111;text-shadow:0 0 2px #fff">2021-03</div></div>
<div style="position:absolute;left:545.00px;top:963.50px;width:2.50px;height:131.70px;background:linear-gradient(90deg,rgba(110,110,110,0.32),rgba(110,110,110,0.12))"></div>
<div style="position:absolute;left:528.00px;top:961.00px;width:17.00px;height:134.20px;background:#f25a5d"></div>
<div style="position:absolute;left:565.00px;top:887.31px;width:2.50px;height:207.89px;background:linear-gradient(90deg,rgba(110,110,110,0.32),rgba(110,110,110,0.12))"></div>
<div style="position:absolute;left:548.00px;top:884.81px;width:17.00px;height:210.39px;background:#7b83ea"></div>
<div style="position:absolute;left:540.0px;top:1103.5px;width:0;height:0"><div style="position:absolute;right:0;top:0;transform-origin:100% 0;transform:rotate(-45deg);font-size:17.5px;line-height:18px;font-weight:bold;color:#111;white-space:nowrap;-webkit-text-stroke:0.3px #111;text-shadow:0 0 2px #fff">2021-04</div></div>
<div style="position:absolute;left:613.00px;top:987.36px;width:2.50px;height:107.84px;background:linear-gradient(90deg,rgba(110,110,110,0.32),rgba(110,110,110,0.12))"></div>
<div style="position:absolute;left:596.00px;top:984.86px;width:17.00px;height:110.34px;background:#f25a5d"></div>
<div style="position:absolute;left:633.00px;top:924.07px;width:2.50px;height:171.13px;background:linear-gradient(90deg,rgba(110,110,110,0.32),rgba(110,110,110,0.12))"></div>
<div style="position:absolute;left:616.00px;top:921.57px;width:17.00px;height:173.63px;background:#7b83ea"></div>
<div style="position:absolute;left:608.0px;top:1103.5px;width:0;height:0"><div style="position:absolute;right:0;top:0;transform-origin:100% 0;transform:rotate(-45deg);font-size:17.5px;line-height:18px;font-weight:bold;color:#111;white-space:nowrap;-webkit-text-stroke:0.3px #111;text-shadow:0 0 2px #fff">2021-05</div></div>
<div style="position:absolute;left:681.00px;top:1007.61px;width:2.50px;height:87.59px;background:linear-gradient(90deg,rgba(110,110,110,0.32),rgba(110,110,110,0.12))"></div>
<div style="position:absolute;left:664.00px;top:1005.11px;width:17.00px;height:90.09px;background:#f25a5d"></div>
<div style="position:absolute;left:701.00px;top:961.56px;width:2.50px;height:133.64px;background:linear-gradient(90deg,rgba(110,110,110,0.32),rgba(110,110,110,0.12))"></div>
<div style="position:absolute;left:684.00px;top:959.06px;width:17.00px;height:136.14px;background:#7b83ea"></div>
<div style="position:absolute;left:676.0px;top:1103.5px;width:0;height:0"><div style="position:absolute;right:0;top:0;transform-origin:100% 0;transform:rotate(-45deg);font-size:17.5px;line-height:18px;font-weight:bold;color:#111;white-space:nowrap;-webkit-text-stroke:0.3px #111;text-shadow:0 0 2px #fff">2021-06</div></div>
<div style="position:absolute;left:749.00px;top:1007.14px;width:2.50px;height:88.06px;background:linear-gradient(90deg,rgba(110,110,110,0.32),rgba(110,110,110,0.12))"></div>
<div style="position:absolute;left:732.00px;top:1004.64px;width:17.00px;height:90.56px;background:#f25a5d"></div>
<div style="position:absolute;left:769.00px;top:920.32px;width:2.50px;height:174.88px;background:linear-gradient(90deg,rgba(110,110,110,0.32),rgba(110,110,110,0.12))"></div>
<div style="position:absolute;left:752.00px;top:917.82px;width:17.00px;height:177.38px;background:#7b83ea"></div>
<div style="position:absolute;left:744.0px;top:1103.5px;width:0;height:0"><div style="position:absolute;right:0;top:0;transform-origin:100% 0;transform:rotate(-45deg);font-size:17.5px;line-height:18px;font-weight:bold;color:#111;white-space:nowrap;-webkit-text-stroke:0.3px #111;text-shadow:0 0 2px #fff">2021-07</div></div>
<div style="position:absolute;left:817.00px;top:1018.67px;width:2.50px;height:76.53px;background:linear-gradient(90deg,rgba(110,110,110,0.32),rgba(110,110,110,0.12))"></div>
<div style="position:absolute;left:800.00px;top:1016.17px;width:17.00px;height:79.03px;background:#f25a5d"></div>
<div style="position:absolute;left:837.00px;top:981.13px;width:2.50px;height:114.07px;background:linear-gradient(90deg,rgba(110,110,110,0.32),rgba(110,110,110,0.12))"></div>
<div style="position:absolute;left:820.00px;top:978.63px;width:17.00px;height:116.57px;background:#7b83ea"></div>
<div style="position:absolute;left:812.0px;top:1103.5px;width:0;height:0"><div style="position:absolute;right:0;top:0;transform-origin:100% 0;transform:rotate(-45deg);font-size:17.5px;line-height:18px;font-weight:bold;color:#111;white-space:nowrap;-webkit-text-stroke:0.3px #111;text-shadow:0 0 2px #fff">2021-08</div></div>
<div style="position:absolute;left:885.00px;top:1015.95px;width:2.50px;height:79.25px;background:linear-gradient(90deg,rgba(110,110,110,0.32),rgba(110,110,110,0.12))"></div>
<div style="position:absolute;left:868.00px;top:1013.45px;width:17.00px;height:81.75px;background:#f25a5d"></div>
<div style="position:absolute;left:905.00px;top:1015.95px;width:2.50px;height:79.25px;background:linear-gradient(90deg,rgba(110,110,110,0.32),rgba(110,110,110,0.12))"></div>
<div style="position:absolute;left:888.00px;top:1013.45px;width:17.00px;height:81.75px;background:#7b83ea"></div>
<div style="position:absolute;left:880.0px;top:1103.5px;width:0;height:0"><div style="position:absolute;right:0;top:0;transform-origin:100% 0;transform:rotate(-45deg);font-size:17.5px;line-height:18px;font-weight:bold;color:#111;white-space:nowrap;-webkit-text-stroke:0.3px #111;text-shadow:0 0 2px #fff">2021-09</div></div>
<div style="position:absolute;left:953.00px;top:1047.37px;width:2.50px;height:47.83px;background:linear-gradient(90deg,rgba(110,110,110,0.32),rgba(110,110,110,0.12))"></div>
<div style="position:absolute;left:936.00px;top:1044.87px;width:17.00px;height:50.33px;background:#f25a5d"></div>
<div style="position:absolute;left:973.00px;top:989.44px;width:2.50px;height:105.76px;background:linear-gradient(90deg,rgba(110,110,110,0.32),rgba(110,110,110,0.12))"></div>
<div style="position:absolute;left:956.00px;top:986.94px;width:17.00px;height:108.26px;background:#7b83ea"></div>
<div style="position:absolute;left:948.0px;top:1103.5px;width:0;height:0"><div style="position:absolute;right:0;top:0;transform-origin:100% 0;transform:rotate(-45deg);font-size:17.5px;line-height:18px;font-weight:bold;color:#111;white-space:nowrap;-webkit-text-stroke:0.3px #111;text-shadow:0 0 2px #fff">2021-10</div></div>
<div style="position:absolute;left:1021.00px;top:1065.21px;width:2.50px;height:29.99px;background:linear-gradient(90deg,rgba(110,110,110,0.32),rgba(110,110,110,0.12))"></div>
<div style="position:absolute;left:1004.00px;top:1062.71px;width:17.00px;height:32.49px;background:#f25a5d"></div>
<div style="position:absolute;left:1041.00px;top:1038.23px;width:2.50px;height:56.97px;background:linear-gradient(90deg,rgba(110,110,110,0.32),rgba(110,110,110,0.12))"></div>
<div style="position:absolute;left:1024.00px;top:1035.73px;width:17.00px;height:59.47px;background:#7b83ea"></div>
<div style="position:absolute;left:1016.0px;top:1103.5px;width:0;height:0"><div style="position:absolute;right:0;top:0;transform-origin:100% 0;transform:rotate(-45deg);font-size:17.5px;line-height:18px;font-weight:bold;color:#111;white-space:nowrap;-webkit-text-stroke:0.3px #111;text-shadow:0 0 2px #fff">2021-11</div></div>
<div style="position:absolute;left:-98.80px;width:600px;text-align:center;top:1035.23px;font-size:12.5px;line-height:12.5px;color:#111;font-weight:bold;white-space:nowrap;letter-spacing:0.5px;-webkit-text-stroke:0.3px #111;text-shadow:0 0 1.5px #fff,0 0 1.5px #fff">134859.0</div>
<div style="position:absolute;left:-83.50px;width:600px;text-align:center;top:980.65px;font-size:12.5px;line-height:12.5px;color:#111;font-weight:bold;white-space:nowrap;letter-spacing:0.5px;-webkit-text-stroke:0.3px #111;text-shadow:0 0 1.5px #fff,0 0 1.5px #fff">312366.0</div>
<div style="position:absolute;left:-35.50px;width:600px;text-align:center;top:859.50px;font-size:12.5px;line-height:12.5px;color:#111;font-weight:bold;white-space:nowrap;letter-spacing:0.5px;-webkit-text-stroke:0.3px #111;text-shadow:0 0 1.5px #fff,0 0 1.5px #fff">706329.0</div>
<div style="position:absolute;left:-15.50px;width:600px;text-align:center;top:806.51px;font-size:12.5px;line-height:12.5px;color:#111;font-weight:bold;white-space:nowrap;letter-spacing:0.5px;-webkit-text-stroke:0.3px #111;text-shadow:0 0 1.5px #fff,0 0 1.5px #fff">878674.0</div>
<div style="position:absolute;left:32.50px;width:600px;text-align:center;top:936.05px;font-size:12.5px;line-height:12.5px;color:#111;font-weight:bold;white-space:nowrap;letter-spacing:0.5px;-webkit-text-stroke:0.3px #111;text-shadow:0 0 1.5px #fff,0 0 1.5px #fff">457390.0</div>
<div style="position:absolute;left:52.50px;width:600px;text-align:center;top:863.84px;font-size:12.5px;line-height:12.5px;color:#111;font-weight:bold;white-space:nowrap;letter-spacing:0.5px;-webkit-text-stroke:0.3px #111;text-shadow:0 0 1.5px #fff,0 0 1.5px #fff">692226.0</div>
<div style="position:absolute;left:100.50px;width:600px;text-align:center;top:959.99px;font-size:12.5px;line-height:12.5px;color:#111;font-weight:bold;white-space:nowrap;letter-spacing:0.5px;-webkit-text-stroke:0.3px #111;text-shadow:0 0 1.5px #fff,0 0 1.5px #fff">379546.0</div>
<div style="position:absolute;left:120.50px;width:600px;text-align:center;top:926.35px;font-size:12.5px;line-height:12.5px;color:#111;font-weight:bold;white-space:nowrap;letter-spacing:0.5px;-webkit-text-stroke:0.3px #111;text-shadow:0 0 1.5px #fff,0 0 1.5px #fff">488932.0</div>
<div style="position:absolute;left:168.50px;width:600px;text-align:center;top:966.30px;font-size:12.5px;line-height:12.5px;color:#111;font-weight:bold;white-space:nowrap;letter-spacing:0.5px;-webkit-text-stroke:0.3px #111;text-shadow:0 0 1.5px #fff,0 0 1.5px #fff">359025.0</div>
<div style="position:absolute;left:188.50px;width:600px;text-align:center;top:858.31px;font-size:12.5px;line-height:12.5px;color:#111;font-weight:bold;white-space:nowrap;letter-spacing:0.5px;-webkit-text-stroke:0.3px #111;text-shadow:0 0 1.5px #fff,0 0 1.5px #fff">710199.0</div>
<div style="position:absolute;left:236.50px;width:600px;text-align:center;top:942.50px;font-size:12.5px;line-height:12.5px;color:#111;font-weight:bold;white-space:nowrap;letter-spacing:0.5px;-webkit-text-stroke:0.3px #111;text-shadow:0 0 1.5px #fff,0 0 1.5px #fff">436410.0</div>
<div style="position:absolute;left:256.50px;width:600px;text-align:center;top:866.31px;font-size:12.5px;line-height:12.5px;color:#111;font-weight:bold;white-space:nowrap;letter-spacing:0.5px;-webkit-text-stroke:0.3px #111;text-shadow:0 0 1.5px #fff,0 0 1.5px #fff">684206.0</div>
<div style="position:absolute;left:304.50px;width:600px;text-align:center;top:966.36px;font-size:12.5px;line-height:12.5px;color:#111;font-weight:bold;white-space:nowrap;letter-spacing:0.5px;-webkit-text-stroke:0.3px #111;text-shadow:0 0 1.5px #fff,0 0 1.5px #fff">358835.0</div>
<div style="position:absolute;left:324.50px;width:600px;text-align:center;top:903.07px;font-size:12.5px;line-height:12.5px;color:#111;font-weight:bold;white-space:nowrap;letter-spacing:0.5px;-webkit-text-stroke:0.3px #111;text-shadow:0 0 1.5px #fff,0 0 1.5px #fff">564650.0</div>
<div style="position:absolute;left:372.50px;width:600px;text-align:center;top:986.61px;font-size:12.5px;line-height:12.5px;color:#111;font-weight:bold;white-space:nowrap;letter-spacing:0.5px;-webkit-text-stroke:0.3px #111;text-shadow:0 0 1.5px #fff,0 0 1.5px #fff">292982.0</div>
<div style="position:absolute;left:392.50px;width:600px;text-align:center;top:940.56px;font-size:12.5px;line-height:12.5px;color:#111;font-weight:bold;white-space:nowrap;letter-spacing:0.5px;-webkit-text-stroke:0.3px #111;text-shadow:0 0 1.5px #fff,0 0 1.5px #fff">442740.0</div>
<div style="position:absolute;left:440.50px;width:600px;text-align:center;top:986.14px;font-size:12.5px;line-height:12.5px;color:#111;font-weight:bold;white-space:nowrap;letter-spacing:0.5px;-webkit-text-stroke:0.3px #111;text-shadow:0 0 1.5px #fff,0 0 1.5px #fff">294491.0</div>
<div style="position:absolute;left:460.50px;width:600px;text-align:center;top:899.32px;font-size:12.5px;line-height:12.5px;color:#111;font-weight:bold;white-space:nowrap;letter-spacing:0.5px;-webkit-text-stroke:0.3px #111;text-shadow:0 0 1.5px #fff,0 0 1.5px #fff">576834.0</div>
<div style="position:absolute;left:508.50px;width:600px;text-align:center;top:997.67px;font-size:12.5px;line-height:12.5px;color:#111;font-weight:bold;white-space:nowrap;letter-spacing:0.5px;-webkit-text-stroke:0.3px #111;text-shadow:0 0 1.5px #fff,0 0 1.5px #fff">257006.0</div>
<div style="position:absolute;left:528.50px;width:600px;text-align:center;top:960.13px;font-size:12.5px;line-height:12.5px;color:#111;font-weight:bold;white-space:nowrap;letter-spacing:0.5px;-webkit-text-stroke:0.3px #111;text-shadow:0 0 1.5px #fff,0 0 1.5px #fff">379104.0</div>
<div style="position:absolute;left:576.50px;width:600px;text-align:center;top:994.95px;font-size:12.5px;line-height:12.5px;color:#111;font-weight:bold;white-space:nowrap;letter-spacing:0.5px;-webkit-text-stroke:0.3px #111;text-shadow:0 0 1.5px #fff,0 0 1.5px #fff">265865.0</div>
<div style="position:absolute;left:644.50px;width:600px;text-align:center;top:1026.37px;font-size:12.5px;line-height:12.5px;color:#111;font-weight:bold;white-space:nowrap;letter-spacing:0.5px;-webkit-text-stroke:0.3px #111;text-shadow:0 0 1.5px #fff,0 0 1.5px #fff">163659.0</div>
<div style="position:absolute;left:664.50px;width:600px;text-align:center;top:968.44px;font-size:12.5px;line-height:12.5px;color:#111;font-weight:bold;white-space:nowrap;letter-spacing:0.5px;-webkit-text-stroke:0.3px #111;text-shadow:0 0 1.5px #fff,0 0 1.5px #fff">352073.0</div>
<div style="position:absolute;left:712.50px;width:600px;text-align:center;top:1044.21px;font-size:12.5px;line-height:12.5px;color:#111;font-weight:bold;white-space:nowrap;letter-spacing:0.5px;-webkit-text-stroke:0.3px #111;text-shadow:0 0 1.5px #fff,0 0 1.5px #fff">105656.0</div>
<div style="position:absolute;left:724.80px;width:600px;text-align:center;top:1017.23px;font-size:12.5px;line-height:12.5px;color:#111;font-weight:bold;white-space:nowrap;letter-spacing:0.5px;-webkit-text-stroke:0.3px #111;text-shadow:0 0 1.5px #fff,0 0 1.5px #fff">193388.0</div>
<svg style="position:absolute;left:1094px;top:728.5px" width="1012" height="455.5"><g transform="translate(506.0,227.75) rotate(-45)"><rect x="-564" y="-564" width="1128" height="1128" fill="#000" filter="url(#tex)"/></g><rect x="1" y="1" width="1010" height="453.5" fill="none" stroke="#fafafa" stroke-width="2"/></svg>
<svg style="position:absolute;left:1375.00px;top:727.50px;opacity:1.0" width="422.0" height="38.5"><rect x="6" y="6" width="410.0" height="26.5" rx="9.0" fill="#000" filter="url(#nf8)"/></svg>
<div style="position:absolute;left:2063.00px;top:742.00px;width:31.50px;height:28.00px;background:#fbfbfb;border-radius:2px"></div>
<div style="position:absolute;left:2068.00px;top:748.00px;width:21.50px;height:3.00px;background:#555;border-radius:1.5px"></div>
<div style="position:absolute;left:2068.00px;top:754.50px;width:21.50px;height:3.00px;background:#555;border-radius:1.5px"></div>
<div style="position:absolute;left:2068.00px;top:761.00px;width:21.50px;height:3.00px;background:#555;border-radius:1.5px"></div>
<div style="position:absolute;left:1196.60px;top:1095.00px;width:897.00px;height:1.00px;background:#cdd3e3"></div>
<div style="position:absolute;left:578.00px;width:600px;text-align:right;top:1087.00px;font-size:16.5px;line-height:16.5px;color:#111;font-weight:bold;white-space:nowrap;-webkit-text-stroke:0.3px #111">0</div>
<div style="position:absolute;left:1196.60px;top:1033.00px;width:897.00px;height:1.00px;background:#e5e5e5"></div>
<div style="position:absolute;left:578.00px;width:600px;text-align:right;top:1025.00px;font-size:16.5px;line-height:16.5px;color:#111;font-weight:bold;white-space:nowrap;-webkit-text-stroke:0.3px #111">100k</div>
<div style="position:absolute;left:1196.60px;top:971.00px;width:897.00px;height:1.00px;background:#e5e5e5"></div>
<div style="position:absolute;left:578.00px;width:600px;text-align:right;top:963.00px;font-size:16.5px;line-height:16.5px;color:#111;font-weight:bold;white-space:nowrap;-webkit-text-stroke:0.3px #111">200k</div>
<div style="position:absolute;left:1196.60px;top:909.00px;width:897.00px;height:1.00px;background:#e5e5e5"></div>
<div style="position:absolute;left:578.00px;width:600px;text-align:right;top:901.00px;font-size:16.5px;line-height:16.5px;color:#111;font-weight:bold;white-space:nowrap;-webkit-text-stroke:0.3px #111">300k</div>
<div style="position:absolute;left:1196.60px;top:847.00px;width:897.00px;height:1.00px;background:#e5e5e5"></div>
<div style="position:absolute;left:578.00px;width:600px;text-align:right;top:839.00px;font-size:16.5px;line-height:16.5px;color:#111;font-weight:bold;white-space:nowrap;-webkit-text-stroke:0.3px #111">400k</div>
<div style="position:absolute;left:1196.60px;top:785.00px;width:897.00px;height:1.00px;background:#e5e5e5"></div>
<div style="position:absolute;left:578.00px;width:600px;text-align:right;top:777.00px;font-size:16.5px;line-height:16.5px;color:#111;font-weight:bold;white-space:nowrap;-webkit-text-stroke:0.3px #111">500k</div>
<div style="position:absolute;left:1113.5px;top:924.5px;width:18px;height:32px;">
<div style="position:absolute;left:-7px;top:7px;width:32px;height:18px;transform:rotate(-90deg)">
<svg style="position:absolute;left:0.00px;top:1.00px;filter:blur(0.2px)" width="32.4" height="15" viewBox="0 0 32.4 15"><path d="M1.1 2.1H12.8M0.9 4.1H11.5M2.7 6.0H12.2M7.9 1.4V6.2M7.5 3.7L2.0 6.9M2.9 8.8H13.6M1.1 10.6H11.9M1.0 13.3H11.9M3.1 9.0V13.6M10.7 9.4V13.1M7.5 11.1L13.4 13.8M19.6 2.2H28.9M18.4 5.4H28.6M22.8 2.2V6.3M19.3 8.8H29.5M19.4 10.9H28.9M18.4 12.7H27.8M19.3 8.0V14.1M28.1 8.4V12.8M23.7 10.5L18.2 13.8M23.7 10.8L29.6 13.8" stroke="#222" stroke-width="1.35" fill="none"/></svg>
</div></div>
<div style="position:absolute;left:1229.60px;top:1073.61px;width:2.50px;height:21.59px;background:linear-gradient(90deg,rgba(110,110,110,0.32),rgba(110,110,110,0.12))"></div>
<div style="position:absolute;left:1212.10px;top:1071.11px;width:17.50px;height:24.09px;background:#f25a5d"></div>
<div style="position:absolute;left:1250.10px;top:1097.00px;width:2.50px;height:-1.80px;background:linear-gradient(90deg,rgba(110,110,110,0.32),rgba(110,110,110,0.12))"></div>
<div style="position:absolute;left:1232.60px;top:1094.50px;width:17.50px;height:0.70px;background:#7b83ea"></div>
<div style="position:absolute;left:1224.6px;top:1103.5px;width:0;height:0"><div style="position:absolute;right:0;top:0;transform-origin:100% 0;transform:rotate(-45deg);font-size:17.5px;line-height:18px;font-weight:bold;color:#111;white-space:nowrap;-webkit-text-stroke:0.3px #111;text-shadow:0 0 2px #fff">2020-11</div></div>
<div style="position:absolute;left:1298.60px;top:1096.42px;width:2.50px;height:-1.22px;background:linear-gradient(90deg,rgba(110,110,110,0.32),rgba(110,110,110,0.12))"></div>
<div style="position:absolute;left:1281.10px;top:1093.92px;width:17.50px;height:1.28px;background:#f25a5d"></div>
<div style="position:absolute;left:1319.10px;top:1016.05px;width:2.50px;height:79.15px;background:linear-gradient(90deg,rgba(110,110,110,0.32),rgba(110,110,110,0.12))"></div>
<div style="position:absolute;left:1301.60px;top:1013.55px;width:17.50px;height:81.65px;background:#7b83ea"></div>
<div style="position:absolute;left:1293.6px;top:1103.5px;width:0;height:0"><div style="position:absolute;right:0;top:0;transform-origin:100% 0;transform:rotate(-45deg);font-size:17.5px;line-height:18px;font-weight:bold;color:#111;white-space:nowrap;-webkit-text-stroke:0.3px #111;text-shadow:0 0 2px #fff">2020-12</div></div>
<div style="position:absolute;left:1367.60px;top:1043.79px;width:2.50px;height:51.41px;background:linear-gradient(90deg,rgba(110,110,110,0.32),rgba(110,110,110,0.12))"></div>
<div style="position:absolute;left:1350.10px;top:1041.29px;width:17.50px;height:53.91px;background:#f25a5d"></div>
<div style="position:absolute;left:1388.10px;top:1091.48px;width:2.50px;height:3.72px;background:linear-gradient(90deg,rgba(110,110,110,0.32),rgba(110,110,110,0.12))"></div>
<div style="position:absolute;left:1370.60px;top:1088.98px;width:17.50px;height:6.22px;background:#7b83ea"></div>
<div style="position:absolute;left:1362.6px;top:1103.5px;width:0;height:0"><div style="position:absolute;right:0;top:0;transform-origin:100% 0;transform:rotate(-45deg);font-size:17.5px;line-height:18px;font-weight:bold;color:#111;white-space:nowrap;-webkit-text-stroke:0.3px #111;text-shadow:0 0 2px #fff">2021-1</div></div>
<div style="position:absolute;left:1436.60px;top:1043.90px;width:2.50px;height:51.30px;background:linear-gradient(90deg,rgba(110,110,110,0.32),rgba(110,110,110,0.12))"></div>
<div style="position:absolute;left:1419.10px;top:1041.40px;width:17.50px;height:53.80px;background:#f25a5d"></div>
<div style="position:absolute;left:1457.10px;top:1097.11px;width:2.50px;height:-1.91px;background:linear-gradient(90deg,rgba(110,110,110,0.32),rgba(110,110,110,0.12))"></div>
<div style="position:absolute;left:1439.60px;top:1094.61px;width:17.50px;height:0.59px;background:#7b83ea"></div>
<div style="position:absolute;left:1431.6px;top:1103.5px;width:0;height:0"><div style="position:absolute;right:0;top:0;transform-origin:100% 0;transform:rotate(-45deg);font-size:17.5px;line-height:18px;font-weight:bold;color:#111;white-space:nowrap;-webkit-text-stroke:0.3px #111;text-shadow:0 0 2px #fff">2021-10</div></div>
<div style="position:absolute;left:1526.10px;top:1080.99px;width:2.50px;height:14.21px;background:linear-gradient(90deg,rgba(110,110,110,0.32),rgba(110,110,110,0.12))"></div>
<div style="position:absolute;left:1508.60px;top:1078.49px;width:17.50px;height:16.71px;background:#7b83ea"></div>
<div style="position:absolute;left:1500.6px;top:1103.5px;width:0;height:0"><div style="position:absolute;right:0;top:0;transform-origin:100% 0;transform:rotate(-45deg);font-size:17.5px;line-height:18px;font-weight:bold;color:#111;white-space:nowrap;-webkit-text-stroke:0.3px #111;text-shadow:0 0 2px #fff">2021-11</div></div>
<div style="position:absolute;left:1574.60px;top:997.46px;width:2.50px;height:97.74px;background:linear-gradient(90deg,rgba(110,110,110,0.32),rgba(110,110,110,0.12))"></div>
<div style="position:absolute;left:1557.10px;top:994.96px;width:17.50px;height:100.24px;background:#f25a5d"></div>
<div style="position:absolute;left:1595.10px;top:1092.64px;width:2.50px;height:2.56px;background:linear-gradient(90deg,rgba(110,110,110,0.32),rgba(110,110,110,0.12))"></div>
<div style="position:absolute;left:1577.60px;top:1090.14px;width:17.50px;height:5.06px;background:#7b83ea"></div>
<div style="position:absolute;left:1569.6px;top:1103.5px;width:0;height:0"><div style="position:absolute;right:0;top:0;transform-origin:100% 0;transform:rotate(-45deg);font-size:17.5px;line-height:18px;font-weight:bold;color:#111;white-space:nowrap;-webkit-text-stroke:0.3px #111;text-shadow:0 0 2px #fff">2021-2</div></div>
<div style="position:absolute;left:1643.60px;top:857.80px;width:2.50px;height:237.40px;background:linear-gradient(90deg,rgba(110,110,110,0.32),rgba(110,110,110,0.12))"></div>
<div style="position:absolute;left:1626.10px;top:855.30px;width:17.50px;height:239.90px;background:#f25a5d"></div>
<div style="position:absolute;left:1664.10px;top:1066.13px;width:2.50px;height:29.07px;background:linear-gradient(90deg,rgba(110,110,110,0.32),rgba(110,110,110,0.12))"></div>
<div style="position:absolute;left:1646.60px;top:1063.63px;width:17.50px;height:31.57px;background:#7b83ea"></div>
<div style="position:absolute;left:1638.6px;top:1103.5px;width:0;height:0"><div style="position:absolute;right:0;top:0;transform-origin:100% 0;transform:rotate(-45deg);font-size:17.5px;line-height:18px;font-weight:bold;color:#111;white-space:nowrap;-webkit-text-stroke:0.3px #111;text-shadow:0 0 2px #fff">2021-3</div></div>
<div style="position:absolute;left:1712.60px;top:1090.29px;width:2.50px;height:4.91px;background:linear-gradient(90deg,rgba(110,110,110,0.32),rgba(110,110,110,0.12))"></div>
<div style="position:absolute;left:1695.10px;top:1087.79px;width:17.50px;height:7.41px;background:#f25a5d"></div>
<div style="position:absolute;left:1733.10px;top:1019.34px;width:2.50px;height:75.86px;background:linear-gradient(90deg,rgba(110,110,110,0.32),rgba(110,110,110,0.12))"></div>
<div style="position:absolute;left:1715.60px;top:1016.84px;width:17.50px;height:78.36px;background:#7b83ea"></div>
<div style="position:absolute;left:1707.6px;top:1103.5px;width:0;height:0"><div style="position:absolute;right:0;top:0;transform-origin:100% 0;transform:rotate(-45deg);font-size:17.5px;line-height:18px;font-weight:bold;color:#111;white-space:nowrap;-webkit-text-stroke:0.3px #111;text-shadow:0 0 2px #fff">2021-4</div></div>
<div style="position:absolute;left:1781.60px;top:1092.82px;width:2.50px;height:2.38px;background:linear-gradient(90deg,rgba(110,110,110,0.32),rgba(110,110,110,0.12))"></div>
<div style="position:absolute;left:1764.10px;top:1090.32px;width:17.50px;height:4.88px;background:#f25a5d"></div>
<div style="position:absolute;left:1802.10px;top:1040.49px;width:2.50px;height:54.71px;background:linear-gradient(90deg,rgba(110,110,110,0.32),rgba(110,110,110,0.12))"></div>
<div style="position:absolute;left:1784.60px;top:1037.99px;width:17.50px;height:57.21px;background:#7b83ea"></div>
<div style="position:absolute;left:1776.6px;top:1103.5px;width:0;height:0"><div style="position:absolute;right:0;top:0;transform-origin:100% 0;transform:rotate(-45deg);font-size:17.5px;line-height:18px;font-weight:bold;color:#111;white-space:nowrap;-webkit-text-stroke:0.3px #111;text-shadow:0 0 2px #fff">2021-5</div></div>
<div style="position:absolute;left:1850.60px;top:1088.72px;width:2.50px;height:6.48px;background:linear-gradient(90deg,rgba(110,110,110,0.32),rgba(110,110,110,0.12))"></div>
<div style="position:absolute;left:1833.10px;top:1086.22px;width:17.50px;height:8.98px;background:#f25a5d"></div>
<div style="position:absolute;left:1871.10px;top:1031.59px;width:2.50px;height:63.61px;background:linear-gradient(90deg,rgba(110,110,110,0.32),rgba(110,110,110,0.12))"></div>
<div style="position:absolute;left:1853.60px;top:1029.09px;width:17.50px;height:66.11px;background:#7b83ea"></div>
<div style="position:absolute;left:1845.6px;top:1103.5px;width:0;height:0"><div style="position:absolute;right:0;top:0;transform-origin:100% 0;transform:rotate(-45deg);font-size:17.5px;line-height:18px;font-weight:bold;color:#111;white-space:nowrap;-webkit-text-stroke:0.3px #111;text-shadow:0 0 2px #fff">2021-6</div></div>
<div style="position:absolute;left:1919.60px;top:1021.14px;width:2.50px;height:74.06px;background:linear-gradient(90deg,rgba(110,110,110,0.32),rgba(110,110,110,0.12))"></div>
<div style="position:absolute;left:1902.10px;top:1018.64px;width:17.50px;height:76.56px;background:#f25a5d"></div>
<div style="position:absolute;left:1940.10px;top:1091.25px;width:2.50px;height:3.95px;background:linear-gradient(90deg,rgba(110,110,110,0.32),rgba(110,110,110,0.12))"></div>
<div style="position:absolute;left:1922.60px;top:1088.75px;width:17.50px;height:6.45px;background:#7b83ea"></div>
<div style="position:absolute;left:1914.6px;top:1103.5px;width:0;height:0"><div style="position:absolute;right:0;top:0;transform-origin:100% 0;transform:rotate(-45deg);font-size:17.5px;line-height:18px;font-weight:bold;color:#111;white-space:nowrap;-webkit-text-stroke:0.3px #111;text-shadow:0 0 2px #fff">2021-7</div></div>
<div style="position:absolute;left:1988.60px;top:1096.67px;width:2.50px;height:-1.47px;background:linear-gradient(90deg,rgba(110,110,110,0.32),rgba(110,110,110,0.12))"></div>
<div style="position:absolute;left:1971.10px;top:1094.17px;width:17.50px;height:1.03px;background:#f25a5d"></div>
<div style="position:absolute;left:2009.10px;top:1042.88px;width:2.50px;height:52.32px;background:linear-gradient(90deg,rgba(110,110,110,0.32),rgba(110,110,110,0.12))"></div>
<div style="position:absolute;left:1991.60px;top:1040.38px;width:17.50px;height:54.82px;background:#7b83ea"></div>
<div style="position:absolute;left:1983.6px;top:1103.5px;width:0;height:0"><div style="position:absolute;right:0;top:0;transform-origin:100% 0;transform:rotate(-45deg);font-size:17.5px;line-height:18px;font-weight:bold;color:#111;white-space:nowrap;-webkit-text-stroke:0.3px #111;text-shadow:0 0 2px #fff">2021-8</div></div>
<div style="position:absolute;left:2057.60px;top:1096.92px;width:2.50px;height:-1.72px;background:linear-gradient(90deg,rgba(110,110,110,0.32),rgba(110,110,110,0.12))"></div>
<div style="position:absolute;left:2040.10px;top:1094.42px;width:17.50px;height:0.78px;background:#f25a5d"></div>
<div style="position:absolute;left:2078.10px;top:1073.44px;width:2.50px;height:21.76px;background:linear-gradient(90deg,rgba(110,110,110,0.32),rgba(110,110,110,0.12))"></div>
<div style="position:absolute;left:2060.60px;top:1070.94px;width:17.50px;height:24.26px;background:#7b83ea"></div>
<div style="position:absolute;left:2052.6px;top:1103.5px;width:0;height:0"><div style="position:absolute;right:0;top:0;transform-origin:100% 0;transform:rotate(-45deg);font-size:17.5px;line-height:18px;font-weight:bold;color:#111;white-space:nowrap;-webkit-text-stroke:0.3px #111;text-shadow:0 0 2px #fff">2021-9</div></div>
<div style="position:absolute;left:921.70px;width:600px;text-align:center;top:1052.61px;font-size:12.5px;line-height:12.5px;color:#111;font-weight:bold;white-space:nowrap;letter-spacing:0.5px;-webkit-text-stroke:0.3px #111;text-shadow:0 0 1.5px #fff,0 0 1.5px #fff">39176.0</div>
<div style="position:absolute;left:941.35px;width:600px;text-align:center;top:1076.00px;font-size:12.5px;line-height:12.5px;color:#111;font-weight:bold;white-space:nowrap;letter-spacing:0.5px;-webkit-text-stroke:0.3px #111;text-shadow:0 0 1.5px #fff,0 0 1.5px #fff">1145.0</div>
<div style="position:absolute;left:989.85px;width:600px;text-align:center;top:1075.42px;font-size:12.5px;line-height:12.5px;color:#111;font-weight:bold;white-space:nowrap;letter-spacing:0.5px;-webkit-text-stroke:0.3px #111;text-shadow:0 0 1.5px #fff,0 0 1.5px #fff">2088.0</div>
<div style="position:absolute;left:1010.35px;width:600px;text-align:center;top:995.05px;font-size:12.5px;line-height:12.5px;color:#111;font-weight:bold;white-space:nowrap;letter-spacing:0.5px;-webkit-text-stroke:0.3px #111;text-shadow:0 0 1.5px #fff,0 0 1.5px #fff">132768.0</div>
<div style="position:absolute;left:1058.85px;width:600px;text-align:center;top:1022.79px;font-size:12.5px;line-height:12.5px;color:#111;font-weight:bold;white-space:nowrap;letter-spacing:0.5px;-webkit-text-stroke:0.3px #111;text-shadow:0 0 1.5px #fff,0 0 1.5px #fff">87661.0</div>
<div style="position:absolute;left:1079.35px;width:600px;text-align:center;top:1070.48px;font-size:12.5px;line-height:12.5px;color:#111;font-weight:bold;white-space:nowrap;letter-spacing:0.5px;-webkit-text-stroke:0.3px #111;text-shadow:0 0 1.5px #fff,0 0 1.5px #fff">10111.0</div>
<div style="position:absolute;left:1127.85px;width:600px;text-align:center;top:1022.90px;font-size:12.5px;line-height:12.5px;color:#111;font-weight:bold;white-space:nowrap;letter-spacing:0.5px;-webkit-text-stroke:0.3px #111;text-shadow:0 0 1.5px #fff,0 0 1.5px #fff">87473.0</div>
<div style="position:absolute;left:1148.35px;width:600px;text-align:center;top:1076.11px;font-size:12.5px;line-height:12.5px;color:#111;font-weight:bold;white-space:nowrap;letter-spacing:0.5px;-webkit-text-stroke:0.3px #111;text-shadow:0 0 1.5px #fff,0 0 1.5px #fff">961.0</div>
<div style="position:absolute;left:1196.85px;width:600px;text-align:center;top:1076.40px;font-size:12.5px;line-height:12.5px;color:#111;font-weight:bold;white-space:nowrap;letter-spacing:0.5px;-webkit-text-stroke:0.3px #111;text-shadow:0 0 1.5px #fff,0 0 1.5px #fff">482.0</div>
<div style="position:absolute;left:1217.35px;width:600px;text-align:center;top:1059.99px;font-size:12.5px;line-height:12.5px;color:#111;font-weight:bold;white-space:nowrap;letter-spacing:0.5px;-webkit-text-stroke:0.3px #111;text-shadow:0 0 1.5px #fff,0 0 1.5px #fff">27168.0</div>
<div style="position:absolute;left:1265.85px;width:600px;text-align:center;top:976.46px;font-size:12.5px;line-height:12.5px;color:#111;font-weight:bold;white-space:nowrap;letter-spacing:0.5px;-webkit-text-stroke:0.3px #111;text-shadow:0 0 1.5px #fff,0 0 1.5px #fff">162996.0</div>
<div style="position:absolute;left:1286.35px;width:600px;text-align:center;top:1071.64px;font-size:12.5px;line-height:12.5px;color:#111;font-weight:bold;white-space:nowrap;letter-spacing:0.5px;-webkit-text-stroke:0.3px #111;text-shadow:0 0 1.5px #fff,0 0 1.5px #fff">8235.0</div>
<div style="position:absolute;left:1334.85px;width:600px;text-align:center;top:836.80px;font-size:12.5px;line-height:12.5px;color:#111;font-weight:bold;white-space:nowrap;letter-spacing:0.5px;-webkit-text-stroke:0.3px #111;text-shadow:0 0 1.5px #fff,0 0 1.5px #fff">390085.0</div>
<div style="position:absolute;left:1355.35px;width:600px;text-align:center;top:1045.13px;font-size:12.5px;line-height:12.5px;color:#111;font-weight:bold;white-space:nowrap;letter-spacing:0.5px;-webkit-text-stroke:0.3px #111;text-shadow:0 0 1.5px #fff,0 0 1.5px #fff">51338.0</div>
<div style="position:absolute;left:1403.85px;width:600px;text-align:center;top:1069.29px;font-size:12.5px;line-height:12.5px;color:#111;font-weight:bold;white-space:nowrap;letter-spacing:0.5px;-webkit-text-stroke:0.3px #111;text-shadow:0 0 1.5px #fff,0 0 1.5px #fff">12044.0</div>
<div style="position:absolute;left:1424.35px;width:600px;text-align:center;top:998.34px;font-size:12.5px;line-height:12.5px;color:#111;font-weight:bold;white-space:nowrap;letter-spacing:0.5px;-webkit-text-stroke:0.3px #111;text-shadow:0 0 1.5px #fff,0 0 1.5px #fff">127407.0</div>
<div style="position:absolute;left:1472.85px;width:600px;text-align:center;top:1071.82px;font-size:12.5px;line-height:12.5px;color:#111;font-weight:bold;white-space:nowrap;letter-spacing:0.5px;-webkit-text-stroke:0.3px #111;text-shadow:0 0 1.5px #fff,0 0 1.5px #fff">7931.0</div>
<div style="position:absolute;left:1493.35px;width:600px;text-align:center;top:1019.49px;font-size:12.5px;line-height:12.5px;color:#111;font-weight:bold;white-space:nowrap;letter-spacing:0.5px;-webkit-text-stroke:0.3px #111;text-shadow:0 0 1.5px #fff,0 0 1.5px #fff">93019.0</div>
<div style="position:absolute;left:1541.85px;width:600px;text-align:center;top:1067.72px;font-size:12.5px;line-height:12.5px;color:#111;font-weight:bold;white-space:nowrap;letter-spacing:0.5px;-webkit-text-stroke:0.3px #111;text-shadow:0 0 1.5px #fff,0 0 1.5px #fff">14605.0</div>
<div style="position:absolute;left:1610.85px;width:600px;text-align:center;top:1000.14px;font-size:12.5px;line-height:12.5px;color:#111;font-weight:bold;white-space:nowrap;letter-spacing:0.5px;-webkit-text-stroke:0.3px #111;text-shadow:0 0 1.5px #fff,0 0 1.5px #fff">124491.0</div>
<div style="position:absolute;left:1631.35px;width:600px;text-align:center;top:1070.25px;font-size:12.5px;line-height:12.5px;color:#111;font-weight:bold;white-space:nowrap;letter-spacing:0.5px;-webkit-text-stroke:0.3px #111;text-shadow:0 0 1.5px #fff,0 0 1.5px #fff">10493.0</div>
<div style="position:absolute;left:1679.85px;width:600px;text-align:center;top:1075.67px;font-size:12.5px;line-height:12.5px;color:#111;font-weight:bold;white-space:nowrap;letter-spacing:0.5px;-webkit-text-stroke:0.3px #111;text-shadow:0 0 1.5px #fff,0 0 1.5px #fff">1670.0</div>
<div style="position:absolute;left:1700.35px;width:600px;text-align:center;top:1021.88px;font-size:12.5px;line-height:12.5px;color:#111;font-weight:bold;white-space:nowrap;letter-spacing:0.5px;-webkit-text-stroke:0.3px #111;text-shadow:0 0 1.5px #fff,0 0 1.5px #fff">89138.0</div>
<div style="position:absolute;left:1748.85px;width:600px;text-align:center;top:1075.92px;font-size:12.5px;line-height:12.5px;color:#111;font-weight:bold;white-space:nowrap;letter-spacing:0.5px;-webkit-text-stroke:0.3px #111;text-shadow:0 0 1.5px #fff,0 0 1.5px #fff">1262.0</div>
<div style="position:absolute;left:1765.50px;width:600px;text-align:center;top:1052.44px;font-size:12.5px;line-height:12.5px;color:#111;font-weight:bold;white-space:nowrap;letter-spacing:0.5px;-webkit-text-stroke:0.3px #111;text-shadow:0 0 1.5px #fff,0 0 1.5px #fff">39452.0</div>
</body></html>
